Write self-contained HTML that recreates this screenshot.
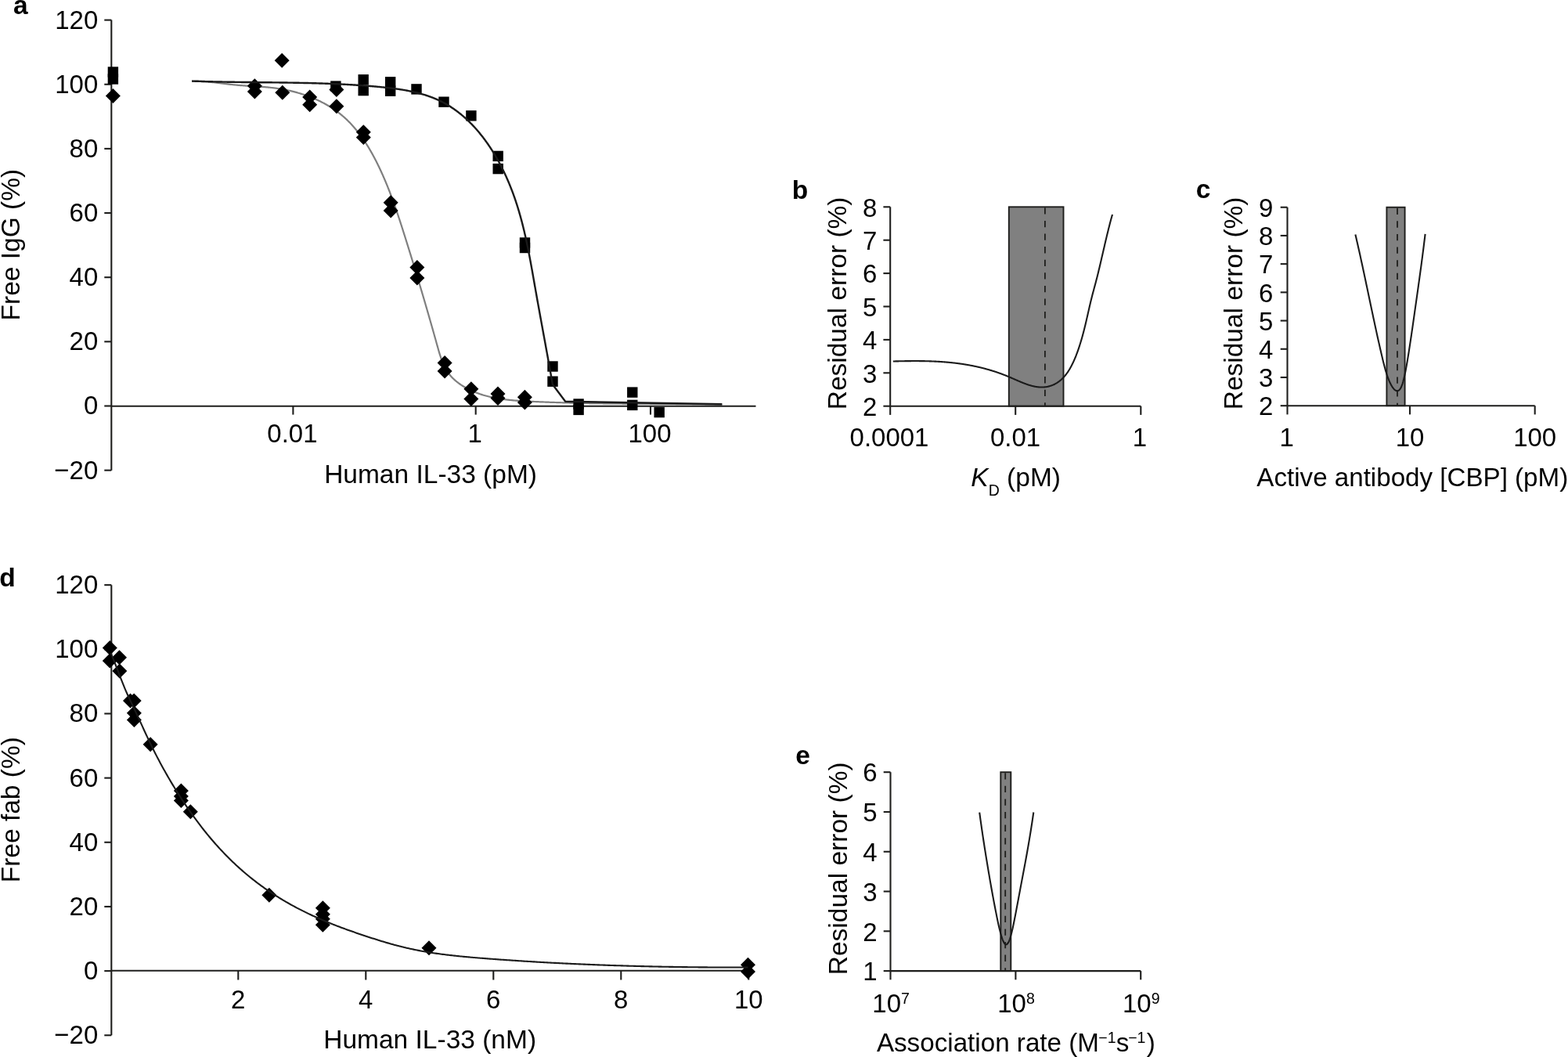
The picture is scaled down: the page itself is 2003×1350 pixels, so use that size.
<!DOCTYPE html>
<html><head><meta charset="utf-8"><title>Figure</title>
<style>
html,body{margin:0;padding:0;background:#fff;width:2003px;height:1350px;overflow:hidden;}
svg{display:block;}
text{font-family:'Liberation Sans', Arial, Helvetica, sans-serif;fill:#000;}
</style></head>
<body>
<svg width="2003" height="1350" viewBox="0 0 2003 1350">
<rect width="2003" height="1350" fill="#fff"/>
<line x1="142.30" y1="25.60" x2="142.30" y2="600.65" stroke="#1e1e1c" stroke-width="2.1" />
<line x1="133.30" y1="600.65" x2="142.30" y2="600.65" stroke="#1e1e1c" stroke-width="2.1" />
<text x="125.30" y="611.65" text-anchor="end" font-size="33" transform="matrix(1,0,0,1.03,0,-18.350)" >−20</text>
<line x1="133.30" y1="518.50" x2="142.30" y2="518.50" stroke="#1e1e1c" stroke-width="2.1" />
<text x="125.30" y="529.50" text-anchor="end" font-size="33" transform="matrix(1,0,0,1.03,0,-15.885)" >0</text>
<line x1="133.30" y1="436.35" x2="142.30" y2="436.35" stroke="#1e1e1c" stroke-width="2.1" />
<text x="125.30" y="447.35" text-anchor="end" font-size="33" transform="matrix(1,0,0,1.03,0,-13.421)" >20</text>
<line x1="133.30" y1="354.20" x2="142.30" y2="354.20" stroke="#1e1e1c" stroke-width="2.1" />
<text x="125.30" y="365.20" text-anchor="end" font-size="33" transform="matrix(1,0,0,1.03,0,-10.956)" >40</text>
<line x1="133.30" y1="272.05" x2="142.30" y2="272.05" stroke="#1e1e1c" stroke-width="2.1" />
<text x="125.30" y="283.05" text-anchor="end" font-size="33" transform="matrix(1,0,0,1.03,0,-8.492)" >60</text>
<line x1="133.30" y1="189.90" x2="142.30" y2="189.90" stroke="#1e1e1c" stroke-width="2.1" />
<text x="125.30" y="200.90" text-anchor="end" font-size="33" transform="matrix(1,0,0,1.03,0,-6.027)" >80</text>
<line x1="133.30" y1="107.75" x2="142.30" y2="107.75" stroke="#1e1e1c" stroke-width="2.1" />
<text x="125.30" y="118.75" text-anchor="end" font-size="33" transform="matrix(1,0,0,1.03,0,-3.563)" >100</text>
<line x1="133.30" y1="25.60" x2="142.30" y2="25.60" stroke="#1e1e1c" stroke-width="2.1" />
<text x="125.30" y="36.60" text-anchor="end" font-size="33" transform="matrix(1,0,0,1.03,0,-1.098)" >120</text>
<line x1="142.30" y1="518.70" x2="965.50" y2="518.70" stroke="#1e1e1c" stroke-width="2.1" />
<line x1="374.40" y1="518.70" x2="374.40" y2="529.60" stroke="#1e1e1c" stroke-width="2.1" />
<text x="373.40" y="565.30" text-anchor="middle" font-size="33" transform="matrix(1,0,0,1.03,0,-16.959)" >0.01</text>
<line x1="607.70" y1="518.70" x2="607.70" y2="529.60" stroke="#1e1e1c" stroke-width="2.1" />
<text x="606.70" y="565.30" text-anchor="middle" font-size="33" transform="matrix(1,0,0,1.03,0,-16.959)" >1</text>
<line x1="831.00" y1="518.70" x2="831.00" y2="529.60" stroke="#1e1e1c" stroke-width="2.1" />
<text x="830.00" y="565.30" text-anchor="middle" font-size="33" transform="matrix(1,0,0,1.03,0,-16.959)" >100</text>
<text x="414.15" y="616.70" text-anchor="start" font-size="33.5" >Human IL-33 (pM)</text>
<text transform="translate(24.90,409.40) rotate(-90)" font-size="33.5">Free IgG (%)</text>
<text x="17.00" y="18.40" font-size="33.5" font-weight="bold">a</text>
<path d="M245.20,103.83 L246.20,103.80 L247.20,103.78 L248.21,103.77 L249.21,103.76 L250.21,103.76 L251.21,103.77 L252.21,103.78 L253.21,103.80 L254.21,103.83 L255.21,103.86 L256.21,103.90 L257.21,103.94 L258.20,104.00 L259.20,104.05 L260.20,104.11 L261.20,104.18 L262.20,104.25 L263.19,104.32 L264.19,104.40 L265.19,104.49 L266.19,104.58 L267.18,104.67 L268.18,104.76 L269.18,104.86 L270.17,104.96 L271.17,105.07 L272.17,105.17 L273.16,105.28 L274.16,105.39 L275.15,105.51 L276.15,105.62 L277.15,105.74 L278.14,105.86 L279.14,105.98 L280.13,106.10 L281.13,106.22 L282.12,106.35 L283.12,106.47 L284.11,106.59 L285.11,106.72 L286.10,106.84 L287.10,106.96 L288.09,107.08 L289.09,107.20 L290.08,107.32 L291.08,107.44 L292.07,107.56 L293.06,107.68 L294.06,107.79 L295.05,107.90 L296.05,108.01 L297.04,108.12 L298.04,108.22 L299.03,108.33 L300.03,108.42 L301.02,108.52 L302.02,108.61 L303.01,108.70 L304.01,108.79 L305.00,108.87 L305.99,108.95 L306.99,109.03 L307.98,109.11 L308.98,109.18 L309.97,109.26 L310.97,109.33 L311.96,109.40 L312.96,109.47 L313.95,109.53 L314.95,109.60 L315.94,109.66 L316.94,109.73 L317.93,109.79 L318.93,109.85 L319.92,109.91 L320.91,109.97 L321.91,110.04 L322.90,110.10 L323.90,110.16 L324.89,110.22 L325.89,110.28 L326.88,110.35 L327.87,110.41 L328.87,110.48 L329.86,110.54 L330.86,110.61 L331.85,110.68 L332.84,110.75 L333.84,110.82 L334.83,110.89 L335.82,110.97 L336.82,111.05 L337.81,111.13 L338.80,111.21 L339.80,111.29 L340.79,111.38 L341.78,111.47 L342.77,111.57 L343.77,111.66 L344.76,111.77 L345.75,111.87 L346.74,111.98 L347.74,112.09 L348.73,112.20 L349.72,112.32 L350.71,112.45 L351.70,112.58 L352.69,112.71 L353.69,112.85 L354.68,112.99 L355.67,113.14 L356.66,113.29 L357.65,113.44 L358.64,113.61 L359.63,113.77 L360.62,113.95 L361.61,114.12 L362.59,114.30 L363.58,114.49 L364.57,114.68 L365.55,114.88 L366.54,115.08 L367.52,115.29 L368.51,115.50 L369.49,115.72 L370.47,115.94 L371.45,116.17 L372.43,116.40 L373.41,116.64 L374.39,116.88 L375.36,117.13 L376.34,117.38 L377.31,117.64 L378.28,117.90 L379.25,118.17 L380.22,118.45 L381.19,118.72 L382.15,119.01 L383.12,119.30 L384.08,119.59 L385.04,119.89 L386.00,120.20 L386.96,120.51 L387.91,120.82 L388.86,121.14 L389.81,121.47 L390.76,121.80 L391.71,122.14 L392.65,122.48 L393.59,122.83 L394.53,123.18 L395.47,123.54 L396.41,123.90 L397.34,124.27 L398.27,124.64 L399.20,125.02 L400.12,125.41 L401.04,125.80 L401.96,126.19 L402.88,126.59 L403.79,127.00 L404.70,127.41 L405.61,127.83 L406.51,128.25 L407.42,128.68 L408.31,129.11 L409.21,129.55 L410.10,130.00 L410.99,130.45 L411.88,130.90 L412.76,131.37 L413.64,131.83 L414.51,132.31 L415.38,132.78 L416.25,133.27 L417.12,133.76 L417.98,134.25 L418.83,134.75 L419.69,135.26 L420.54,135.77 L421.38,136.29 L422.22,136.81 L423.06,137.34 L423.89,137.87 L424.72,138.41 L425.55,138.96 L426.37,139.51 L427.19,140.07 L428.00,140.63 L428.81,141.20 L429.61,141.78 L430.41,142.36 L431.20,142.94 L431.99,143.53 L432.78,144.13 L433.56,144.73 L434.34,145.34 L435.11,145.96 L435.87,146.58 L436.63,147.21 L437.39,147.84 L438.14,148.48 L438.89,149.12 L439.63,149.77 L440.36,150.43 L441.09,151.09 L441.82,151.76 L442.54,152.43 L443.26,153.11 L443.97,153.79 L444.67,154.48 L445.37,155.18 L446.07,155.88 L446.76,156.59 L447.45,157.30 L448.13,158.01 L448.81,158.73 L449.48,159.46 L450.15,160.19 L450.81,160.93 L451.47,161.67 L452.12,162.41 L452.77,163.16 L453.42,163.92 L454.06,164.68 L454.69,165.44 L455.32,166.21 L455.95,166.98 L456.57,167.76 L457.19,168.54 L457.81,169.32 L458.42,170.11 L459.02,170.90 L459.62,171.70 L460.22,172.50 L460.81,173.31 L461.40,174.12 L461.99,174.93 L462.57,175.74 L463.15,176.56 L463.72,177.39 L464.29,178.21 L464.85,179.04 L465.41,179.88 L465.97,180.71 L466.53,181.55 L467.08,182.39 L467.62,183.24 L468.16,184.09 L468.70,184.94 L469.24,185.80 L469.77,186.65 L470.30,187.51 L470.82,188.38 L471.34,189.24 L471.86,190.11 L472.37,190.98 L472.88,191.85 L473.39,192.73 L473.89,193.60 L474.39,194.48 L474.89,195.37 L475.38,196.25 L475.87,197.13 L476.36,198.02 L476.85,198.91 L477.33,199.80 L477.80,200.70 L478.28,201.59 L478.75,202.49 L479.22,203.39 L479.68,204.29 L480.15,205.19 L480.61,206.09 L481.06,206.99 L481.52,207.90 L481.97,208.80 L482.42,209.71 L482.86,210.62 L483.30,211.53 L483.74,212.44 L484.18,213.35 L484.61,214.26 L485.05,215.18 L485.48,216.09 L485.90,217.00 L486.33,217.92 L486.75,218.83 L487.17,219.75 L487.59,220.67 L488.00,221.58 L488.41,222.50 L488.82,223.42 L489.23,224.34 L489.63,225.26 L490.04,226.18 L490.44,227.10 L490.83,228.02 L491.23,228.94 L491.62,229.86 L492.02,230.79 L492.40,231.71 L492.79,232.64 L493.18,233.56 L493.56,234.49 L493.94,235.41 L494.32,236.34 L494.70,237.27 L495.07,238.19 L495.44,239.12 L495.81,240.05 L496.18,240.98 L496.55,241.91 L496.92,242.84 L497.28,243.77 L497.64,244.70 L498.00,245.63 L498.36,246.56 L498.71,247.49 L499.07,248.43 L499.42,249.36 L499.77,250.29 L500.12,251.23 L500.47,252.16 L500.82,253.10 L501.16,254.03 L501.51,254.97 L501.85,255.91 L502.19,256.84 L502.53,257.78 L502.86,258.72 L503.20,259.65 L503.53,260.59 L503.87,261.53 L504.20,262.47 L504.53,263.41 L504.86,264.35 L505.19,265.29 L505.51,266.23 L505.84,267.17 L506.16,268.11 L506.49,269.05 L506.81,269.99 L507.13,270.93 L507.45,271.88 L507.77,272.82 L508.09,273.76 L508.40,274.70 L508.72,275.65 L509.04,276.59 L509.35,277.54 L509.66,278.48 L509.97,279.42 L510.29,280.37 L510.60,281.31 L510.91,282.26 L511.21,283.20 L511.52,284.15 L511.83,285.09 L512.14,286.04 L512.44,286.99 L512.75,287.93 L513.05,288.88 L513.36,289.83 L513.66,290.77 L513.96,291.72 L514.27,292.67 L514.57,293.61 L514.87,294.56 L515.17,295.51 L515.47,296.46 L515.77,297.40 L516.07,298.35 L516.37,299.30 L516.67,300.25 L516.97,301.20 L517.27,302.14 L517.56,303.09 L517.86,304.04 L518.16,304.99 L518.46,305.94 L518.75,306.89 L519.05,307.84 L519.35,308.79 L519.64,309.73 L519.94,310.68 L520.24,311.63 L520.53,312.58 L520.83,313.53 L521.13,314.48 L521.42,315.43 L521.72,316.38 L522.01,317.33 L522.31,318.28 L522.60,319.23 L522.90,320.18 L523.19,321.13 L523.48,322.08 L523.78,323.03 L524.07,323.98 L524.37,324.93 L524.66,325.88 L524.95,326.83 L525.25,327.78 L525.54,328.74 L525.83,329.69 L526.12,330.64 L526.42,331.59 L526.71,332.54 L527.00,333.49 L527.29,334.44 L527.58,335.40 L527.88,336.35 L528.17,337.30 L528.46,338.25 L528.75,339.21 L529.04,340.16 L529.33,341.11 L529.62,342.06 L529.91,343.02 L530.20,343.97 L530.49,344.92 L530.78,345.88 L531.07,346.83 L531.36,347.79 L531.65,348.74 L531.94,349.69 L532.23,350.65 L532.51,351.60 L532.80,352.56 L533.09,353.51 L533.38,354.47 L533.67,355.42 L533.95,356.38 L534.24,357.33 L534.53,358.29 L534.82,359.25 L535.10,360.20 L535.39,361.16 L535.68,362.12 L535.96,363.07 L536.25,364.03 L536.53,364.99 L536.82,365.94 L537.10,366.90 L537.39,367.86 L537.67,368.82 L537.96,369.78 L538.24,370.73 L538.53,371.69 L538.81,372.65 L539.10,373.61 L539.38,374.57 L539.67,375.53 L539.95,376.49 L540.23,377.45 L540.52,378.41 L540.80,379.37 L541.08,380.33 L541.37,381.29 L541.65,382.25 L541.93,383.21 L542.21,384.17 L542.49,385.13 L542.78,386.10 L543.06,387.06 L543.34,388.02 L543.62,388.98 L543.90,389.95 L544.18,390.91 L544.46,391.87 L544.74,392.84 L545.02,393.80 L545.30,394.76 L545.58,395.73 L545.86,396.69 L546.14,397.66 L546.42,398.62 L546.70,399.59 L546.98,400.55 L547.26,401.52 L547.54,402.49 L547.82,403.45 L548.10,404.42 L548.38,405.39 L548.65,406.35 L548.93,407.32 L549.21,408.29 L549.49,409.26 L549.76,410.22 L550.04,411.19 L550.32,412.16 L550.60,413.13 L550.87,414.10 L551.15,415.07 L551.42,416.04 L551.70,417.01 L551.98,417.98 L552.25,418.95 L552.53,419.92 L552.80,420.90 L553.08,421.87 L553.35,422.84 L553.63,423.81 L553.90,424.79 L554.18,425.76 L554.45,426.73 L554.73,427.71 L555.00,428.68 L555.27,429.65 L555.55,430.63 L555.82,431.60 L556.09,432.58 L556.37,433.55 L556.64,434.53 L556.91,435.51 L557.19,436.48 L557.46,437.46 L557.73,438.44 L558.00,439.42 L558.28,440.39 L558.55,441.37 L558.82,442.35 L559.09,443.33 L559.37,444.31 L559.64,445.28 L559.92,446.26 L560.20,447.23 L560.48,448.21 L560.76,449.18 L561.05,450.15 L561.34,451.11 L561.64,452.08 L561.94,453.04 L562.25,454.00 L562.56,454.95 L562.87,455.90 L563.20,456.85 L563.52,457.80 L563.86,458.73 L564.20,459.67 L564.55,460.60 L564.91,461.52 L565.28,462.44 L565.66,463.35 L566.04,464.26 L566.44,465.16 L566.84,466.06 L567.26,466.94 L567.68,467.82 L568.12,468.70 L568.57,469.56 L569.03,470.42 L569.50,471.27 L569.98,472.11 L570.48,472.94 L570.99,473.77 L571.52,474.58 L572.06,475.39 L572.61,476.18 L573.18,476.97 L573.77,477.74 L574.37,478.51 L574.98,479.26 L575.61,480.01 L576.26,480.74 L576.92,481.46 L577.60,482.17 L578.28,482.88 L578.98,483.57 L579.70,484.25 L580.42,484.92 L581.16,485.58 L581.91,486.23 L582.67,486.87 L583.44,487.50 L584.22,488.12 L585.00,488.73 L585.80,489.33 L586.61,489.92 L587.42,490.50 L588.24,491.07 L589.07,491.63 L589.90,492.18 L590.74,492.72 L591.58,493.25 L592.43,493.77 L593.28,494.28 L594.14,494.78 L595.00,495.27 L595.87,495.75 L596.74,496.22 L597.61,496.68 L598.49,497.14 L599.37,497.58 L600.26,498.02 L601.15,498.44 L602.04,498.86 L602.93,499.27 L603.83,499.67 L604.74,500.06 L605.64,500.44 L606.56,500.82 L607.47,501.19 L608.39,501.55 L609.31,501.90 L610.23,502.24 L611.16,502.58 L612.09,502.90 L613.02,503.22 L613.96,503.54 L614.89,503.84 L615.84,504.14 L616.78,504.43 L617.73,504.72 L618.68,504.99 L619.63,505.26 L620.59,505.53 L621.55,505.78 L622.51,506.03 L623.47,506.28 L624.43,506.51 L625.40,506.75 L626.37,506.97 L627.35,507.19 L628.32,507.40 L629.30,507.61 L630.28,507.81 L631.26,508.01 L632.24,508.20 L633.22,508.38 L634.21,508.56 L635.20,508.74 L636.19,508.91 L637.18,509.07 L638.18,509.23 L639.17,509.39 L640.17,509.54 L641.17,509.68 L642.17,509.83 L643.17,509.96 L644.17,510.10 L645.18,510.22 L646.18,510.35 L647.19,510.47 L648.20,510.58 L649.20,510.70 L650.21,510.81 L651.23,510.91 L652.24,511.01 L653.25,511.11 L654.26,511.21 L655.28,511.30 L656.29,511.39 L657.31,511.48 L658.33,511.56 L659.34,511.64 L660.36,511.72 L661.38,511.79 L662.40,511.87 L663.42,511.94 L664.43,512.01 L665.45,512.07 L666.47,512.14 L667.49,512.20 L668.51,512.26 L669.53,512.32 L670.55,512.38 L671.57,512.43 L672.59,512.49 L673.61,512.54 L674.63,512.59 L675.65,512.64 L676.67,512.69 L677.68,512.74 L678.70,512.79 L679.72,512.84 L680.74,512.89 L681.75,512.93 L682.77,512.98 L683.78,513.02 L684.80,513.07 L685.81,513.11 L686.83,513.16 L687.84,513.20 L688.85,513.24 L689.86,513.28 L690.87,513.32 L691.89,513.37 L692.90,513.41 L693.91,513.45 L694.92,513.49 L695.92,513.52 L696.93,513.56 L697.94,513.60 L698.95,513.64 L699.96,513.68 L700.96,513.71 L701.97,513.75 L702.97,513.78 L703.98,513.82 L704.98,513.85 L705.99,513.89 L706.99,513.92 L708.00,513.95 L709.00,513.99 L710.00,514.02 L711.01,514.05 L712.01,514.08 L713.01,514.11 L714.01,514.14 L715.01,514.17 L716.01,514.20 L717.01,514.23 L718.01,514.26 L719.01,514.29 L720.01,514.32 L721.01,514.34 L722.01,514.37 L723.00,514.40 L724.00,514.42 L725.00,514.45 L726.00,514.48 L726.99,514.50 L727.99,514.53 L728.99,514.55 L729.98,514.57 L730.98,514.60 L731.97,514.62 L732.97,514.64 L733.96,514.67 L734.95,514.69 L735.95,514.71 L736.94,514.73 L737.94,514.75 L738.93,514.77 L739.92,514.79 L740.91,514.81 L741.91,514.83 L742.90,514.85 L743.89,514.87 L744.88,514.89 L745.87,514.91 L746.87,514.93 L747.86,514.95 L748.85,514.96 L749.84,514.98 L750.83,515.00 L751.82,515.02 L752.81,515.03 L753.80,515.05 L754.79,515.06 L755.78,515.08 L756.77,515.10 L757.76,515.11 L758.74,515.13 L759.73,515.14 L760.72,515.15 L761.71,515.17 L762.70,515.18 L763.69,515.20 L764.67,515.21 L765.66,515.22 L766.65,515.24 L767.64,515.25 L768.63,515.26 L769.61,515.27 L770.60,515.29 L771.59,515.30 L772.57,515.31 L773.56,515.32 L774.55,515.33 L775.54,515.34 L776.52,515.35 L777.51,515.36 L778.50,515.37 L779.48,515.38 L780.47,515.39 L781.45,515.40 L782.44,515.41 L783.43,515.42 L784.41,515.43 L785.40,515.44 L786.39,515.45 L787.37,515.46 L788.36,515.47 L789.35,515.48 L790.33,515.49 L791.32,515.50 L792.30,515.50 L793.29,515.51 L794.28,515.52 L795.26,515.53 L796.25,515.54 L797.24,515.55 L798.22,515.55 L799.21,515.56 L800.20,515.57 L801.18,515.58 L802.17,515.58 L803.15,515.59 L804.14,515.60 L805.13,515.60 L806.12,515.61 L807.10,515.62 L808.09,515.63 L809.08,515.63 L810.06,515.64 L811.05,515.65 L812.04,515.65 L813.03,515.66 L814.01,515.67 L815.00,515.67 L815.99,515.68 L816.98,515.69 L817.97,515.69 L818.95,515.70 L819.94,515.70 L820.93,515.71 L821.92,515.72 L822.91,515.72 L823.90,515.73 L824.89,515.74 L825.88,515.74 L826.87,515.75 L827.86,515.76 L828.85,515.76 L829.84,515.77 L830.83,515.78 L831.82,515.78 L832.81,515.79 L833.80,515.80 L834.79,515.80 L835.78,515.81 L836.77,515.82 L837.76,515.82 L838.76,515.83 L839.75,515.84 L840.74,515.84 L841.73,515.85 L842.73,515.86 L843.72,515.86 L844.71,515.87 L845.71,515.88 L846.70,515.89 L847.70,515.89 L848.69,515.90 L849.69,515.91 L850.68,515.92 L851.68,515.93 L852.67,515.93 L853.67,515.94 L854.67,515.95 L855.66,515.96 L856.66,515.97 L857.66,515.98 L858.66,515.99 L859.65,515.99 L860.65,516.00 L861.65,516.01 L862.65,516.02 L863.65,516.03 L864.65,516.04 L865.65,516.05 L866.65,516.06 L867.65,516.07 L868.66,516.08 L869.66,516.09 L870.66,516.10 L871.66,516.12 L872.67,516.13 L873.67,516.14 L874.67,516.15 L875.68,516.16 L876.68,516.17 L877.69,516.19 L878.69,516.20 L879.70,516.21 L880.71,516.22 L881.71,516.24 L882.72,516.25 L883.73,516.26 L884.74,516.28 L885.75,516.29 L886.76,516.31 L887.77,516.32 L888.78,516.34 L889.79,516.35 L890.80,516.37 L891.81,516.38 L892.82,516.40 L893.84,516.41 L894.85,516.43 L895.86,516.45 L896.88,516.46 L897.89,516.48 L898.91,516.50 L899.92,516.52 L900.94,516.53 L901.96,516.55 L902.98,516.57 L903.99,516.59 L905.01,516.61 L906.03,516.63 L907.05,516.65 L908.07,516.67 L909.10,516.69 L910.12,516.71 L911.14,516.73 L912.16,516.76 L913.19,516.78 L914.21,516.80 L915.23,516.82 L916.26,516.85 L917.29,516.87 L918.31,516.89 L919.34,516.92 L920.37,516.94 L921.40,516.97 L922.43,516.99" fill="none" stroke="#7f7f7f" stroke-width="2.2" stroke-linejoin="round" />
<rect x="137.70" y="85.30" width="13.4" height="13.4" fill="#000"/>
<rect x="137.70" y="94.30" width="13.4" height="13.4" fill="#000"/>
<rect x="457.50" y="95.10" width="13.4" height="13.4" fill="#000"/>
<rect x="457.50" y="108.90" width="13.4" height="13.4" fill="#000"/>
<rect x="492.00" y="98.10" width="13.4" height="13.4" fill="#000"/>
<rect x="492.00" y="109.50" width="13.4" height="13.4" fill="#000"/>
<rect x="422.20" y="103.40" width="13.4" height="13.4" fill="#000"/>
<rect x="525.30" y="107.20" width="13.4" height="13.4" fill="#000"/>
<rect x="560.30" y="123.50" width="13.4" height="13.4" fill="#000"/>
<rect x="595.20" y="141.10" width="13.4" height="13.4" fill="#000"/>
<rect x="629.50" y="192.70" width="13.4" height="13.4" fill="#000"/>
<rect x="629.50" y="208.90" width="13.4" height="13.4" fill="#000"/>
<rect x="663.80" y="303.30" width="13.4" height="13.4" fill="#000"/>
<rect x="663.80" y="309.80" width="13.4" height="13.4" fill="#000"/>
<rect x="699.30" y="461.30" width="13.4" height="13.4" fill="#000"/>
<rect x="699.30" y="480.50" width="13.4" height="13.4" fill="#000"/>
<rect x="732.40" y="509.30" width="13.4" height="13.4" fill="#000"/>
<rect x="732.40" y="516.70" width="13.4" height="13.4" fill="#000"/>
<rect x="801.10" y="494.40" width="13.4" height="13.4" fill="#000"/>
<rect x="801.10" y="510.70" width="13.4" height="13.4" fill="#000"/>
<rect x="835.50" y="519.90" width="13.4" height="13.4" fill="#000"/>
<path d="M144.40,113.00L153.90,122.50L144.40,132.00L134.90,122.50Z" fill="#000"/>
<path d="M325.40,100.30L334.90,109.80L325.40,119.30L315.90,109.80Z" fill="#000"/>
<path d="M325.40,107.50L334.90,117.00L325.40,126.50L315.90,117.00Z" fill="#000"/>
<path d="M360.20,67.80L369.70,77.30L360.20,86.80L350.70,77.30Z" fill="#000"/>
<path d="M360.80,108.70L370.30,118.20L360.80,127.70L351.30,118.20Z" fill="#000"/>
<path d="M395.70,114.50L405.20,124.00L395.70,133.50L386.20,124.00Z" fill="#000"/>
<path d="M395.70,124.20L405.20,133.70L395.70,143.20L386.20,133.70Z" fill="#000"/>
<path d="M429.90,104.90L439.40,114.40L429.90,123.90L420.40,114.40Z" fill="#000"/>
<path d="M429.90,126.30L439.40,135.80L429.90,145.30L420.40,135.80Z" fill="#000"/>
<path d="M464.30,159.30L473.80,168.80L464.30,178.30L454.80,168.80Z" fill="#000"/>
<path d="M464.30,165.90L473.80,175.40L464.30,184.90L454.80,175.40Z" fill="#000"/>
<path d="M499.20,249.20L508.70,258.70L499.20,268.20L489.70,258.70Z" fill="#000"/>
<path d="M499.20,259.40L508.70,268.90L499.20,278.40L489.70,268.90Z" fill="#000"/>
<path d="M532.90,332.00L542.40,341.50L532.90,351.00L523.40,341.50Z" fill="#000"/>
<path d="M532.90,345.50L542.40,355.00L532.90,364.50L523.40,355.00Z" fill="#000"/>
<path d="M568.10,454.10L577.60,463.60L568.10,473.10L558.60,463.60Z" fill="#000"/>
<path d="M568.10,464.40L577.60,473.90L568.10,483.40L558.60,473.90Z" fill="#000"/>
<path d="M601.90,487.30L611.40,496.80L601.90,506.30L592.40,496.80Z" fill="#000"/>
<path d="M601.90,499.90L611.40,509.40L601.90,518.90L592.40,509.40Z" fill="#000"/>
<path d="M636.00,493.60L645.50,503.10L636.00,512.60L626.50,503.10Z" fill="#000"/>
<path d="M636.00,499.00L645.50,508.50L636.00,518.00L626.50,508.50Z" fill="#000"/>
<path d="M670.40,497.80L679.90,507.30L670.40,516.80L660.90,507.30Z" fill="#000"/>
<path d="M670.40,504.50L679.90,514.00L670.40,523.50L660.90,514.00Z" fill="#000"/>
<path d="M245.12,103.54 L246.13,103.58 L247.15,103.61 L248.16,103.65 L249.17,103.68 L250.18,103.72 L251.19,103.75 L252.20,103.79 L253.21,103.82 L254.22,103.85 L255.23,103.88 L256.24,103.91 L257.25,103.94 L258.26,103.97 L259.27,104.00 L260.27,104.03 L261.28,104.06 L262.29,104.09 L263.30,104.11 L264.30,104.14 L265.31,104.17 L266.32,104.19 L267.32,104.22 L268.33,104.24 L269.33,104.27 L270.34,104.29 L271.34,104.31 L272.35,104.34 L273.35,104.36 L274.36,104.38 L275.36,104.40 L276.36,104.43 L277.37,104.45 L278.37,104.47 L279.37,104.49 L280.37,104.51 L281.38,104.53 L282.38,104.54 L283.38,104.56 L284.38,104.58 L285.38,104.60 L286.38,104.62 L287.39,104.63 L288.39,104.65 L289.39,104.67 L290.39,104.68 L291.39,104.70 L292.39,104.71 L293.39,104.73 L294.39,104.74 L295.38,104.76 L296.38,104.77 L297.38,104.79 L298.38,104.80 L299.38,104.82 L300.38,104.83 L301.37,104.84 L302.37,104.86 L303.37,104.87 L304.37,104.88 L305.36,104.89 L306.36,104.91 L307.36,104.92 L308.36,104.93 L309.35,104.94 L310.35,104.95 L311.34,104.96 L312.34,104.97 L313.34,104.99 L314.33,105.00 L315.33,105.01 L316.32,105.02 L317.32,105.03 L318.31,105.04 L319.31,105.05 L320.30,105.06 L321.30,105.07 L322.29,105.08 L323.29,105.09 L324.28,105.10 L325.28,105.11 L326.27,105.12 L327.27,105.13 L328.26,105.14 L329.25,105.15 L330.25,105.16 L331.24,105.17 L332.24,105.18 L333.23,105.19 L334.22,105.20 L335.22,105.20 L336.21,105.21 L337.20,105.22 L338.20,105.23 L339.19,105.24 L340.18,105.25 L341.18,105.26 L342.17,105.27 L343.16,105.28 L344.15,105.29 L345.15,105.30 L346.14,105.31 L347.13,105.32 L348.12,105.33 L349.12,105.35 L350.11,105.36 L351.10,105.37 L352.09,105.38 L353.09,105.39 L354.08,105.40 L355.07,105.41 L356.06,105.42 L357.06,105.44 L358.05,105.45 L359.04,105.46 L360.03,105.47 L361.03,105.48 L362.02,105.50 L363.01,105.51 L364.00,105.52 L364.99,105.54 L365.99,105.55 L366.98,105.56 L367.97,105.58 L368.96,105.59 L369.96,105.61 L370.95,105.62 L371.94,105.64 L372.93,105.65 L373.93,105.67 L374.92,105.69 L375.91,105.70 L376.90,105.72 L377.90,105.74 L378.89,105.75 L379.88,105.77 L380.87,105.79 L381.87,105.81 L382.86,105.83 L383.85,105.85 L384.85,105.87 L385.84,105.89 L386.83,105.91 L387.82,105.93 L388.82,105.95 L389.81,105.97 L390.80,105.99 L391.80,106.02 L392.79,106.04 L393.79,106.06 L394.78,106.09 L395.77,106.11 L396.77,106.14 L397.76,106.16 L398.75,106.19 L399.75,106.21 L400.74,106.24 L401.74,106.27 L402.73,106.30 L403.73,106.32 L404.72,106.35 L405.72,106.38 L406.71,106.41 L407.71,106.44 L408.70,106.47 L409.70,106.51 L410.69,106.54 L411.69,106.57 L412.69,106.60 L413.68,106.64 L414.68,106.67 L415.67,106.71 L416.67,106.74 L417.67,106.78 L418.66,106.82 L419.66,106.85 L420.66,106.89 L421.66,106.93 L422.65,106.97 L423.65,107.01 L424.65,107.05 L425.65,107.09 L426.64,107.14 L427.64,107.18 L428.64,107.22 L429.64,107.27 L430.64,107.31 L431.64,107.36 L432.64,107.41 L433.64,107.45 L434.64,107.50 L435.64,107.55 L436.64,107.60 L437.64,107.65 L438.64,107.70 L439.64,107.75 L440.64,107.81 L441.64,107.86 L442.64,107.91 L443.65,107.97 L444.65,108.03 L445.65,108.08 L446.65,108.14 L447.66,108.20 L448.66,108.26 L449.66,108.32 L450.67,108.38 L451.67,108.44 L452.67,108.50 L453.68,108.57 L454.68,108.63 L455.69,108.70 L456.69,108.76 L457.70,108.83 L458.71,108.90 L459.71,108.97 L460.72,109.04 L461.72,109.11 L462.73,109.18 L463.74,109.25 L464.75,109.33 L465.75,109.40 L466.76,109.48 L467.77,109.56 L468.78,109.63 L469.79,109.71 L470.80,109.79 L471.81,109.87 L472.82,109.96 L473.83,110.04 L474.84,110.12 L475.85,110.21 L476.86,110.29 L477.87,110.38 L478.88,110.47 L479.90,110.56 L480.91,110.65 L481.92,110.74 L482.94,110.83 L483.95,110.93 L484.96,111.02 L485.98,111.12 L486.99,111.22 L488.00,111.32 L489.02,111.42 L490.03,111.52 L491.05,111.63 L492.06,111.73 L493.07,111.84 L494.09,111.95 L495.10,112.07 L496.11,112.18 L497.12,112.30 L498.13,112.42 L499.15,112.54 L500.16,112.66 L501.17,112.79 L502.17,112.92 L503.18,113.05 L504.19,113.18 L505.20,113.32 L506.20,113.46 L507.21,113.60 L508.21,113.74 L509.22,113.89 L510.22,114.04 L511.22,114.20 L512.22,114.35 L513.22,114.51 L514.22,114.68 L515.22,114.85 L516.21,115.02 L517.21,115.19 L518.20,115.37 L519.19,115.55 L520.18,115.73 L521.17,115.92 L522.16,116.12 L523.14,116.31 L524.12,116.51 L525.11,116.72 L526.09,116.93 L527.06,117.14 L528.04,117.36 L529.02,117.58 L529.99,117.80 L530.96,118.03 L531.93,118.27 L532.89,118.51 L533.86,118.75 L534.82,119.00 L535.78,119.25 L536.74,119.51 L537.69,119.78 L538.65,120.04 L539.60,120.32 L540.54,120.60 L541.49,120.88 L542.43,121.17 L543.37,121.46 L544.31,121.76 L545.25,122.07 L546.18,122.38 L547.11,122.70 L548.03,123.02 L548.96,123.35 L549.88,123.68 L550.80,124.02 L551.71,124.36 L552.62,124.71 L553.53,125.07 L554.44,125.44 L555.34,125.81 L556.24,126.18 L557.13,126.56 L558.03,126.95 L558.91,127.35 L559.80,127.75 L560.68,128.16 L561.56,128.57 L562.44,129.00 L563.31,129.42 L564.17,129.86 L565.04,130.30 L565.90,130.75 L566.76,131.20 L567.61,131.67 L568.46,132.13 L569.31,132.61 L570.15,133.09 L570.99,133.58 L571.82,134.07 L572.65,134.57 L573.48,135.08 L574.31,135.59 L575.13,136.11 L575.95,136.63 L576.76,137.16 L577.57,137.70 L578.38,138.24 L579.18,138.79 L579.98,139.34 L580.78,139.90 L581.57,140.46 L582.36,141.04 L583.14,141.61 L583.93,142.19 L584.70,142.78 L585.48,143.38 L586.25,143.98 L587.02,144.58 L587.78,145.19 L588.54,145.80 L589.30,146.42 L590.05,147.05 L590.80,147.68 L591.55,148.32 L592.29,148.96 L593.03,149.60 L593.77,150.26 L594.50,150.91 L595.23,151.57 L595.96,152.24 L596.68,152.91 L597.40,153.59 L598.11,154.27 L598.82,154.95 L599.53,155.64 L600.24,156.34 L600.94,157.04 L601.63,157.74 L602.33,158.45 L603.02,159.16 L603.70,159.88 L604.39,160.60 L605.07,161.33 L605.74,162.06 L606.42,162.79 L607.09,163.53 L607.75,164.27 L608.42,165.02 L609.07,165.77 L609.73,166.53 L610.38,167.28 L611.03,168.05 L611.68,168.81 L612.32,169.59 L612.96,170.36 L613.59,171.14 L614.22,171.92 L614.85,172.71 L615.47,173.49 L616.09,174.29 L616.71,175.08 L617.33,175.88 L617.94,176.69 L618.54,177.49 L619.15,178.30 L619.75,179.12 L620.34,179.93 L620.94,180.75 L621.53,181.58 L622.11,182.40 L622.70,183.23 L623.28,184.06 L623.85,184.90 L624.42,185.74 L624.99,186.58 L625.56,187.42 L626.12,188.27 L626.68,189.12 L627.24,189.97 L627.79,190.83 L628.34,191.68 L628.88,192.54 L629.42,193.41 L629.96,194.27 L630.50,195.14 L631.03,196.01 L631.56,196.88 L632.08,197.76 L632.60,198.63 L633.12,199.51 L633.64,200.40 L634.15,201.28 L634.66,202.16 L635.16,203.05 L635.66,203.94 L636.16,204.83 L636.65,205.73 L637.14,206.62 L637.63,207.52 L638.12,208.42 L638.60,209.32 L639.07,210.23 L639.55,211.13 L640.02,212.04 L640.49,212.94 L640.95,213.85 L641.41,214.76 L641.87,215.68 L642.32,216.59 L642.77,217.51 L643.22,218.42 L643.66,219.34 L644.10,220.26 L644.54,221.18 L644.97,222.10 L645.40,223.02 L645.83,223.94 L646.26,224.87 L646.68,225.79 L647.09,226.72 L647.51,227.65 L647.92,228.58 L648.32,229.50 L648.73,230.43 L649.13,231.36 L649.52,232.29 L649.92,233.23 L650.31,234.16 L650.69,235.09 L651.08,236.02 L651.46,236.96 L651.84,237.89 L652.21,238.82 L652.58,239.76 L652.95,240.70 L653.31,241.63 L653.67,242.57 L654.03,243.51 L654.39,244.44 L654.74,245.38 L655.09,246.32 L655.44,247.26 L655.78,248.20 L656.12,249.14 L656.46,250.08 L656.79,251.02 L657.12,251.96 L657.45,252.90 L657.78,253.85 L658.10,254.79 L658.42,255.73 L658.74,256.68 L659.05,257.62 L659.37,258.57 L659.68,259.51 L659.98,260.46 L660.29,261.41 L660.59,262.35 L660.89,263.30 L661.19,264.25 L661.48,265.20 L661.77,266.15 L662.06,267.09 L662.35,268.04 L662.63,268.99 L662.92,269.95 L663.20,270.90 L663.47,271.85 L663.75,272.80 L664.02,273.75 L664.29,274.71 L664.56,275.66 L664.83,276.61 L665.09,277.57 L665.35,278.52 L665.61,279.48 L665.87,280.43 L666.13,281.39 L666.38,282.34 L666.63,283.30 L666.88,284.26 L667.13,285.22 L667.38,286.17 L667.62,287.13 L667.86,288.09 L668.10,289.05 L668.34,290.01 L668.58,290.97 L668.81,291.93 L669.04,292.89 L669.28,293.85 L669.51,294.81 L669.73,295.78 L669.96,296.74 L670.18,297.70 L670.41,298.67 L670.63,299.63 L670.85,300.59 L671.07,301.56 L671.28,302.52 L671.50,303.49 L671.71,304.45 L671.92,305.42 L672.14,306.38 L672.34,307.35 L672.55,308.32 L672.76,309.29 L672.97,310.25 L673.17,311.22 L673.37,312.19 L673.57,313.16 L673.77,314.13 L673.97,315.10 L674.17,316.07 L674.37,317.04 L674.57,318.01 L674.76,318.98 L674.95,319.95 L675.15,320.92 L675.34,321.89 L675.53,322.86 L675.72,323.84 L675.91,324.81 L676.10,325.78 L676.28,326.76 L676.47,327.73 L676.66,328.70 L676.84,329.68 L677.02,330.65 L677.21,331.63 L677.39,332.60 L677.57,333.58 L677.75,334.55 L677.93,335.53 L678.11,336.51 L678.29,337.48 L678.47,338.46 L678.65,339.44 L678.83,340.41 L679.00,341.39 L679.18,342.37 L679.36,343.35 L679.53,344.33 L679.71,345.31 L679.88,346.29 L680.06,347.27 L680.23,348.25 L680.41,349.23 L680.58,350.21 L680.75,351.19 L680.93,352.17 L681.10,353.15 L681.27,354.13 L681.45,355.11 L681.62,356.09 L681.79,357.08 L681.96,358.06 L682.14,359.04 L682.31,360.02 L682.48,361.01 L682.65,361.99 L682.83,362.97 L683.00,363.96 L683.17,364.94 L683.35,365.93 L683.52,366.91 L683.69,367.89 L683.87,368.88 L684.04,369.86 L684.21,370.85 L684.39,371.84 L684.56,372.82 L684.74,373.81 L684.91,374.79 L685.09,375.78 L685.26,376.77 L685.44,377.75 L685.62,378.74 L685.79,379.73 L685.97,380.71 L686.15,381.70 L686.32,382.69 L686.50,383.68 L686.68,384.67 L686.85,385.65 L687.03,386.64 L687.21,387.63 L687.39,388.62 L687.57,389.61 L687.74,390.59 L687.92,391.58 L688.10,392.57 L688.28,393.56 L688.46,394.55 L688.64,395.54 L688.82,396.53 L689.00,397.52 L689.18,398.51 L689.36,399.49 L689.54,400.48 L689.71,401.47 L689.89,402.46 L690.07,403.45 L690.25,404.44 L690.44,405.43 L690.62,406.42 L690.80,407.41 L690.98,408.40 L691.16,409.39 L691.34,410.38 L691.52,411.37 L691.70,412.36 L691.88,413.35 L692.06,414.34 L692.24,415.32 L692.42,416.31 L692.60,417.30 L692.78,418.29 L692.97,419.28 L693.15,420.27 L693.33,421.26 L693.51,422.25 L693.69,423.24 L693.87,424.22 L694.05,425.21 L694.23,426.20 L694.41,427.19 L694.59,428.18 L694.78,429.17 L694.96,430.15 L695.14,431.14 L695.32,432.13 L695.50,433.12 L695.68,434.11 L695.86,435.09 L696.04,436.08 L696.22,437.07 L696.40,438.05 L696.58,439.04 L696.76,440.03 L696.94,441.01 L697.12,442.00 L697.30,442.98 L697.48,443.97 L697.66,444.96 L697.84,445.94 L698.02,446.93 L698.20,447.91 L698.38,448.90 L698.56,449.88 L698.74,450.86 L698.92,451.85 L699.10,452.83 L699.27,453.81 L699.45,454.80 L699.63,455.78 L699.81,456.76 L699.99,457.74 L700.17,458.73 L700.34,459.71 L700.52,460.69 L700.70,461.67 L700.87,462.65 L701.05,463.63 L701.23,464.61 L701.40,465.59 L701.58,466.57 L701.76,467.55 L701.93,468.53 L702.11,469.51 L702.28,470.49 L702.46,471.46 L702.63,472.44 L702.81,473.42 L702.98,474.39 L703.16,475.37 L703.33,476.35 L703.50,477.32 L703.68,478.30 L703.85,479.27 L704.02,480.24 L704.19,481.22 L704.37,482.19 L704.54,483.16 L704.71,484.14 L704.88,485.11 L705.05,486.08 L705.22,487.05 L705.39,488.02 L705.56,488.99 L705.73,489.96 L705.90,490.93 L722.2,512.8 L922.4,516.2" fill="none" stroke="#1a1a1a" stroke-width="2.4" stroke-linejoin="round" />
<rect x="1288.80" y="264.30" width="69.70" height="254.40" fill="#808080" stroke="#1e1e1c" stroke-width="1.9"/>
<line x1="1334.90" y1="265.30" x2="1334.90" y2="518.70" stroke="#1e1e1c" stroke-width="1.8" stroke-dasharray="8.3 8.3"/>
<path d="M1140.80,461.50 L1141.30,461.49 L1141.80,461.47 L1142.30,461.46 L1142.80,461.45 L1143.30,461.43 L1143.80,461.42 L1144.30,461.41 L1144.80,461.40 L1145.30,461.39 L1145.79,461.37 L1146.29,461.36 L1146.79,461.35 L1147.29,461.34 L1147.79,461.33 L1148.29,461.32 L1148.79,461.30 L1149.29,461.29 L1149.79,461.28 L1150.29,461.27 L1150.79,461.26 L1151.29,461.25 L1151.79,461.24 L1152.29,461.23 L1152.79,461.22 L1153.29,461.21 L1153.79,461.20 L1154.29,461.20 L1154.79,461.19 L1155.28,461.18 L1155.78,461.17 L1156.28,461.16 L1156.78,461.15 L1157.28,461.15 L1157.78,461.14 L1158.28,461.13 L1158.78,461.13 L1159.28,461.12 L1159.78,461.11 L1160.28,461.11 L1160.78,461.10 L1161.28,461.10 L1161.78,461.09 L1162.28,461.09 L1162.78,461.08 L1163.28,461.08 L1163.78,461.08 L1164.27,461.07 L1164.77,461.07 L1165.27,461.07 L1165.77,461.06 L1166.27,461.06 L1166.77,461.06 L1167.27,461.06 L1167.77,461.06 L1168.27,461.06 L1168.77,461.06 L1169.27,461.06 L1169.77,461.06 L1170.27,461.06 L1170.77,461.06 L1171.27,461.06 L1171.77,461.06 L1172.27,461.06 L1172.77,461.07 L1173.27,461.07 L1173.76,461.07 L1174.26,461.08 L1174.76,461.08 L1175.26,461.08 L1175.76,461.09 L1176.26,461.09 L1176.76,461.10 L1177.26,461.11 L1177.76,461.11 L1178.26,461.12 L1178.76,461.13 L1179.26,461.14 L1179.76,461.14 L1180.26,461.15 L1180.76,461.16 L1181.26,461.17 L1181.76,461.18 L1182.26,461.19 L1182.76,461.20 L1183.25,461.21 L1183.75,461.23 L1184.25,461.24 L1184.75,461.25 L1185.25,461.27 L1185.75,461.28 L1186.25,461.29 L1186.75,461.31 L1187.25,461.33 L1187.75,461.34 L1188.25,461.36 L1188.75,461.38 L1189.25,461.39 L1189.75,461.41 L1190.25,461.43 L1190.75,461.45 L1191.25,461.47 L1191.75,461.49 L1192.24,461.51 L1192.74,461.53 L1193.24,461.55 L1193.74,461.58 L1194.24,461.60 L1194.74,461.62 L1195.24,461.65 L1195.74,461.67 L1196.24,461.70 L1196.74,461.72 L1197.24,461.75 L1197.74,461.78 L1198.24,461.81 L1198.74,461.83 L1199.24,461.86 L1199.74,461.89 L1200.24,461.92 L1200.74,461.96 L1201.24,461.99 L1201.73,462.02 L1202.23,462.05 L1202.73,462.09 L1203.23,462.12 L1203.73,462.15 L1204.23,462.19 L1204.73,462.23 L1205.23,462.26 L1205.73,462.30 L1206.23,462.34 L1206.73,462.38 L1207.23,462.42 L1207.73,462.46 L1208.23,462.50 L1208.73,462.54 L1209.23,462.58 L1209.73,462.63 L1210.23,462.67 L1210.73,462.71 L1211.22,462.76 L1211.72,462.81 L1212.22,462.85 L1212.72,462.90 L1213.22,462.95 L1213.72,463.00 L1214.22,463.05 L1214.72,463.10 L1215.22,463.15 L1215.72,463.20 L1216.22,463.25 L1216.72,463.31 L1217.22,463.36 L1217.72,463.42 L1218.22,463.47 L1218.72,463.53 L1219.22,463.58 L1219.72,463.64 L1220.21,463.70 L1220.71,463.76 L1221.21,463.82 L1221.71,463.88 L1222.21,463.95 L1222.71,464.01 L1223.21,464.07 L1223.71,464.14 L1224.21,464.20 L1224.71,464.27 L1225.21,464.34 L1225.71,464.40 L1226.21,464.47 L1226.71,464.54 L1227.21,464.61 L1227.71,464.68 L1228.21,464.76 L1228.71,464.83 L1229.21,464.90 L1229.70,464.98 L1230.20,465.05 L1230.70,465.13 L1231.20,465.21 L1231.70,465.29 L1232.20,465.37 L1232.70,465.45 L1233.20,465.53 L1233.70,465.61 L1234.20,465.69 L1234.70,465.78 L1235.20,465.86 L1235.70,465.95 L1236.20,466.03 L1236.70,466.12 L1237.20,466.21 L1237.70,466.30 L1238.20,466.39 L1238.70,466.48 L1239.19,466.58 L1239.69,466.67 L1240.19,466.76 L1240.69,466.86 L1241.19,466.95 L1241.69,467.05 L1242.19,467.15 L1242.69,467.25 L1243.19,467.35 L1243.69,467.45 L1244.19,467.55 L1244.69,467.66 L1245.19,467.76 L1245.69,467.87 L1246.19,467.97 L1246.69,468.08 L1247.19,468.19 L1247.69,468.30 L1248.19,468.41 L1248.68,468.52 L1249.18,468.63 L1249.68,468.75 L1250.18,468.86 L1250.68,468.98 L1251.18,469.09 L1251.68,469.21 L1252.18,469.33 L1252.68,469.45 L1253.18,469.57 L1253.68,469.69 L1254.18,469.82 L1254.68,469.94 L1255.18,470.07 L1255.68,470.20 L1256.18,470.32 L1256.68,470.45 L1257.18,470.58 L1257.67,470.71 L1258.17,470.85 L1258.67,470.98 L1259.17,471.11 L1259.67,471.25 L1260.17,471.39 L1260.67,471.52 L1261.17,471.66 L1261.67,471.80 L1262.17,471.94 L1262.67,472.09 L1263.17,472.23 L1263.67,472.38 L1264.17,472.52 L1264.67,472.67 L1265.17,472.82 L1265.67,472.97 L1266.17,473.12 L1266.67,473.27 L1267.16,473.42 L1267.66,473.58 L1268.16,473.73 L1268.66,473.89 L1269.16,474.05 L1269.66,474.21 L1270.16,474.37 L1270.66,474.53 L1271.16,474.69 L1271.66,474.86 L1272.16,475.02 L1272.66,475.19 L1273.16,475.36 L1273.66,475.53 L1274.16,475.70 L1274.66,475.87 L1275.16,476.04 L1275.66,476.22 L1276.16,476.40 L1276.65,476.57 L1277.15,476.75 L1277.65,476.93 L1278.15,477.11 L1278.65,477.29 L1279.15,477.48 L1279.65,477.66 L1280.15,477.85 L1280.65,478.04 L1281.15,478.22 L1281.65,478.41 L1282.15,478.61 L1282.65,478.80 L1283.15,478.99 L1283.65,479.19 L1284.15,479.39 L1284.65,479.58 L1285.15,479.78 L1285.64,479.98 L1286.14,480.19 L1286.64,480.39 L1287.14,480.60 L1287.64,480.80 L1288.14,481.01 L1288.64,481.22 L1289.14,481.43 L1289.64,481.64 L1290.14,481.86 L1290.64,482.07 L1291.14,482.28 L1291.64,482.50 L1292.14,482.72 L1292.64,482.93 L1293.14,483.15 L1293.64,483.37 L1294.14,483.59 L1294.64,483.81 L1295.13,484.03 L1295.63,484.24 L1296.13,484.46 L1296.63,484.68 L1297.13,484.90 L1297.63,485.12 L1298.13,485.34 L1298.63,485.56 L1299.13,485.78 L1299.63,485.99 L1300.13,486.21 L1300.63,486.42 L1301.13,486.64 L1301.63,486.85 L1302.13,487.07 L1302.63,487.28 L1303.13,487.49 L1303.63,487.70 L1304.13,487.91 L1304.62,488.11 L1305.12,488.32 L1305.62,488.52 L1306.12,488.72 L1306.62,488.92 L1307.12,489.12 L1307.62,489.31 L1308.12,489.51 L1308.62,489.70 L1309.12,489.89 L1309.62,490.07 L1310.12,490.26 L1310.62,490.44 L1311.12,490.62 L1311.62,490.79 L1312.12,490.97 L1312.62,491.14 L1313.12,491.30 L1313.61,491.47 L1314.11,491.63 L1314.61,491.79 L1315.11,491.94 L1315.61,492.09 L1316.11,492.24 L1316.61,492.38 L1317.11,492.52 L1317.61,492.66 L1318.11,492.79 L1318.61,492.92 L1319.11,493.04 L1319.61,493.16 L1320.11,493.28 L1320.61,493.39 L1321.11,493.50 L1321.61,493.60 L1322.11,493.70 L1322.61,493.79 L1323.10,493.88 L1323.60,493.96 L1324.10,494.04 L1324.60,494.11 L1325.10,494.18 L1325.60,494.24 L1326.10,494.30 L1326.60,494.35 L1327.10,494.40 L1327.60,494.44 L1328.10,494.48 L1328.60,494.51 L1329.10,494.53 L1329.60,494.55 L1330.10,494.56 L1330.60,494.56 L1331.10,494.56 L1331.60,494.56 L1332.10,494.54 L1332.59,494.52 L1333.09,494.50 L1333.59,494.46 L1334.09,494.42 L1334.59,494.38 L1335.09,494.32 L1335.59,494.26 L1336.09,494.19 L1336.59,494.12 L1337.09,494.03 L1337.59,493.94 L1338.09,493.85 L1338.59,493.74 L1339.09,493.63 L1339.59,493.51 L1340.09,493.38 L1340.59,493.24 L1341.09,493.10 L1341.59,492.95 L1342.08,492.78 L1342.58,492.62 L1343.08,492.44 L1343.58,492.25 L1344.08,492.06 L1344.58,491.85 L1345.08,491.64 L1345.58,491.42 L1346.08,491.19 L1346.58,490.95 L1347.08,490.71 L1347.58,490.45 L1348.08,490.18 L1348.58,489.91 L1349.08,489.62 L1349.58,489.33 L1350.08,489.02 L1350.58,488.71 L1351.07,488.38 L1351.57,488.05 L1352.07,487.70 L1352.57,487.34 L1353.07,486.98 L1353.57,486.59 L1354.07,486.20 L1354.57,485.79 L1355.07,485.37 L1355.57,484.94 L1356.07,484.49 L1356.57,484.03 L1357.07,483.55 L1357.57,483.06 L1358.07,482.55 L1358.57,482.02 L1359.07,481.48 L1359.57,480.92 L1360.07,480.35 L1360.56,479.75 L1361.06,479.14 L1361.56,478.51 L1362.06,477.86 L1362.56,477.19 L1363.06,476.50 L1363.56,475.79 L1364.06,475.06 L1364.56,474.31 L1365.06,473.54 L1365.56,472.74 L1366.06,471.93 L1366.56,471.09 L1367.06,470.23 L1367.56,469.34 L1368.06,468.43 L1368.56,467.50 L1369.06,466.54 L1369.56,465.56 L1370.05,464.55 L1370.55,463.52 L1371.05,462.46 L1371.55,461.37 L1372.05,460.26 L1372.55,459.12 L1373.05,457.95 L1373.55,456.75 L1374.05,455.53 L1374.55,454.27 L1375.05,452.99 L1375.55,451.67 L1376.05,450.33 L1376.55,448.95 L1377.05,447.55 L1377.55,446.11 L1378.05,444.64 L1378.55,443.14 L1379.04,441.61 L1379.54,440.04 L1380.04,438.44 L1380.54,436.81 L1381.04,435.14 L1381.54,433.44 L1382.04,431.70 L1382.54,429.92 L1383.04,428.12 L1383.54,426.27 L1384.04,424.39 L1384.54,422.47 L1385.04,420.51 L1385.54,418.52 L1386.04,416.49 L1386.54,414.42 L1387.04,412.32 L1387.54,410.19 L1388.04,408.04 L1388.53,405.87 L1389.03,403.68 L1389.53,401.49 L1390.03,399.30 L1390.53,397.11 L1391.03,394.92 L1391.53,392.74 L1392.03,390.58 L1392.53,388.44 L1393.03,386.33 L1393.53,384.24 L1394.03,382.20 L1394.53,380.19 L1395.03,378.22 L1395.53,376.29 L1396.03,374.39 L1396.53,372.52 L1397.03,370.66 L1397.53,368.82 L1398.02,366.97 L1398.52,365.13 L1399.02,363.28 L1399.52,361.41 L1400.02,359.52 L1400.52,357.60 L1401.02,355.65 L1401.52,353.68 L1402.02,351.68 L1402.52,349.66 L1403.02,347.63 L1403.52,345.57 L1404.02,343.49 L1404.52,341.40 L1405.02,339.30 L1405.52,337.18 L1406.02,335.05 L1406.52,332.91 L1407.01,330.77 L1407.51,328.61 L1408.01,326.46 L1408.51,324.30 L1409.01,322.13 L1409.51,319.97 L1410.01,317.81 L1410.51,315.66 L1411.01,313.50 L1411.51,311.36 L1412.01,309.22 L1412.51,307.10 L1413.01,304.98 L1413.51,302.88 L1414.01,300.79 L1414.51,298.72 L1415.01,296.67 L1415.51,294.63 L1416.01,292.62 L1416.50,290.63 L1417.00,288.66 L1417.50,286.72 L1418.00,284.81 L1418.50,282.92 L1419.00,281.07 L1419.50,279.25 L1420.00,277.46 L1420.50,275.71 L1421.00,273.99" fill="none" stroke="#1a1a1a" stroke-width="2.1" stroke-linejoin="round" />
<line x1="1137.20" y1="264.30" x2="1137.20" y2="518.70" stroke="#1e1e1c" stroke-width="2.1" />
<line x1="1128.40" y1="518.70" x2="1137.20" y2="518.70" stroke="#1e1e1c" stroke-width="2.1" />
<text x="1120.40" y="531.00" text-anchor="end" font-size="33" transform="matrix(1,0,0,1.03,0,-15.930)" >2</text>
<line x1="1128.40" y1="476.30" x2="1137.20" y2="476.30" stroke="#1e1e1c" stroke-width="2.1" />
<text x="1120.40" y="488.60" text-anchor="end" font-size="33" transform="matrix(1,0,0,1.03,0,-14.658)" >3</text>
<line x1="1128.40" y1="433.90" x2="1137.20" y2="433.90" stroke="#1e1e1c" stroke-width="2.1" />
<text x="1120.40" y="446.20" text-anchor="end" font-size="33" transform="matrix(1,0,0,1.03,0,-13.386)" >4</text>
<line x1="1128.40" y1="391.50" x2="1137.20" y2="391.50" stroke="#1e1e1c" stroke-width="2.1" />
<text x="1120.40" y="403.80" text-anchor="end" font-size="33" transform="matrix(1,0,0,1.03,0,-12.114)" >5</text>
<line x1="1128.40" y1="349.10" x2="1137.20" y2="349.10" stroke="#1e1e1c" stroke-width="2.1" />
<text x="1120.40" y="361.40" text-anchor="end" font-size="33" transform="matrix(1,0,0,1.03,0,-10.842)" >6</text>
<line x1="1128.40" y1="306.70" x2="1137.20" y2="306.70" stroke="#1e1e1c" stroke-width="2.1" />
<text x="1120.40" y="319.00" text-anchor="end" font-size="33" transform="matrix(1,0,0,1.03,0,-9.570)" >7</text>
<line x1="1128.40" y1="264.30" x2="1137.20" y2="264.30" stroke="#1e1e1c" stroke-width="2.1" />
<text x="1120.40" y="276.60" text-anchor="end" font-size="33" transform="matrix(1,0,0,1.03,0,-8.298)" >8</text>
<line x1="1137.20" y1="518.70" x2="1457.30" y2="518.70" stroke="#1e1e1c" stroke-width="2.1" />
<line x1="1137.20" y1="518.70" x2="1137.20" y2="529.90" stroke="#1e1e1c" stroke-width="2.1" />
<line x1="1297.20" y1="518.70" x2="1297.20" y2="529.90" stroke="#1e1e1c" stroke-width="2.1" />
<line x1="1457.30" y1="518.70" x2="1457.30" y2="529.90" stroke="#1e1e1c" stroke-width="2.1" />
<text transform="translate(1080.90,523.30) rotate(-90)" font-size="33.5">Residual error (%)</text>
<text x="1136.00" y="570.00" text-anchor="middle" font-size="33" transform="matrix(1,0,0,1.03,0,-17.100)" >0.0001</text>
<text x="1297.00" y="570.00" text-anchor="middle" font-size="33" transform="matrix(1,0,0,1.03,0,-17.100)" >0.01</text>
<text x="1456.00" y="570.00" text-anchor="middle" font-size="33" transform="matrix(1,0,0,1.03,0,-17.100)" >1</text>
<text x="1240.35" y="621" font-size="33.5"><tspan font-style="italic">K</tspan><tspan font-size="19.5" dy="12">D</tspan><tspan dy="-12"> (pM)</tspan></text>
<text x="1011.80" y="254.30" font-size="33.5" font-weight="bold">b</text>
<rect x="1771.40" y="264.73" width="23.20" height="253.47" fill="#808080" stroke="#1e1e1c" stroke-width="1.9"/>
<line x1="1785.00" y1="265.73" x2="1785.00" y2="518.20" stroke="#1e1e1c" stroke-width="1.8" stroke-dasharray="8.3 8.3"/>
<path d="M1731.40,299.61 L1731.90,301.73 L1732.40,303.85 L1732.89,305.99 L1733.39,308.15 L1733.89,310.32 L1734.39,312.50 L1734.89,314.70 L1735.39,316.90 L1735.88,319.12 L1736.38,321.35 L1736.88,323.59 L1737.38,325.85 L1737.88,328.11 L1738.38,330.38 L1738.87,332.66 L1739.37,334.95 L1739.87,337.25 L1740.37,339.55 L1740.87,341.86 L1741.37,344.18 L1741.86,346.51 L1742.36,348.84 L1742.86,351.18 L1743.36,353.52 L1743.86,355.86 L1744.36,358.22 L1744.85,360.57 L1745.35,362.93 L1745.85,365.29 L1746.35,367.65 L1746.85,370.02 L1747.35,372.38 L1747.84,374.75 L1748.34,377.12 L1748.84,379.48 L1749.34,381.85 L1749.84,384.22 L1750.34,386.58 L1750.83,388.95 L1751.33,391.31 L1751.83,393.67 L1752.33,396.02 L1752.83,398.37 L1753.33,400.72 L1753.82,403.07 L1754.32,405.41 L1754.82,407.74 L1755.32,410.07 L1755.82,412.39 L1756.32,414.70 L1756.81,417.01 L1757.31,419.31 L1757.81,421.60 L1758.31,423.88 L1758.81,426.16 L1759.31,428.42 L1759.80,430.68 L1760.30,432.92 L1760.80,435.16 L1761.30,437.38 L1761.80,439.59 L1762.30,441.79 L1762.79,443.98 L1763.29,446.15 L1763.79,448.31 L1764.29,450.46 L1764.79,452.59 L1765.29,454.70 L1765.78,456.80 L1766.28,458.88 L1766.78,460.92 L1767.28,462.94 L1767.78,464.92 L1768.28,466.85 L1768.77,468.75 L1769.27,470.59 L1769.77,472.39 L1770.27,474.12 L1770.77,475.80 L1771.27,477.41 L1771.76,478.95 L1772.26,480.42 L1772.76,481.83 L1773.26,483.17 L1773.76,484.46 L1774.26,485.68 L1774.75,486.85 L1775.25,487.96 L1775.75,489.02 L1776.25,490.02 L1776.75,490.98 L1777.25,491.89 L1777.74,492.75 L1778.24,493.57 L1778.74,494.34 L1779.24,495.07 L1779.74,495.74 L1780.24,496.35 L1780.73,496.92 L1781.23,497.42 L1781.73,497.87 L1782.23,498.26 L1782.73,498.58 L1783.23,498.84 L1783.72,499.04 L1784.22,499.16 L1784.72,499.22 L1785.22,499.20 L1785.72,499.11 L1786.22,498.93 L1786.71,498.66 L1787.21,498.30 L1787.71,497.83 L1788.21,497.25 L1788.71,496.55 L1789.21,495.73 L1789.70,494.78 L1790.20,493.70 L1790.70,492.47 L1791.20,491.10 L1791.70,489.58 L1792.20,487.93 L1792.69,486.14 L1793.19,484.22 L1793.69,482.17 L1794.19,480.00 L1794.69,477.70 L1795.19,475.28 L1795.68,472.74 L1796.18,470.10 L1796.68,467.36 L1797.18,464.52 L1797.68,461.61 L1798.18,458.63 L1798.67,455.59 L1799.17,452.49 L1799.67,449.36 L1800.17,446.18 L1800.67,442.96 L1801.17,439.70 L1801.66,436.41 L1802.16,433.09 L1802.66,429.74 L1803.16,426.37 L1803.66,422.96 L1804.16,419.54 L1804.65,416.10 L1805.15,412.64 L1805.65,409.16 L1806.15,405.68 L1806.65,402.18 L1807.15,398.67 L1807.64,395.16 L1808.14,391.65 L1808.64,388.14 L1809.14,384.63 L1809.64,381.12 L1810.14,377.60 L1810.63,374.08 L1811.13,370.56 L1811.63,367.02 L1812.13,363.47 L1812.63,359.91 L1813.13,356.33 L1813.62,352.73 L1814.12,349.11 L1814.62,345.47 L1815.12,341.80 L1815.62,338.10 L1816.12,334.37 L1816.61,330.60 L1817.11,326.80 L1817.61,322.96 L1818.11,319.07 L1818.61,315.15 L1819.11,311.17 L1819.60,307.15 L1820.10,303.08 L1820.60,298.95" fill="none" stroke="#1a1a1a" stroke-width="2.1" stroke-linejoin="round" />
<line x1="1644.50" y1="264.73" x2="1644.50" y2="518.20" stroke="#1e1e1c" stroke-width="2.1" />
<line x1="1635.70" y1="518.20" x2="1644.50" y2="518.20" stroke="#1e1e1c" stroke-width="2.1" />
<text x="1626.30" y="530.50" text-anchor="end" font-size="33" transform="matrix(1,0,0,1.03,0,-15.915)" >2</text>
<line x1="1635.70" y1="481.99" x2="1644.50" y2="481.99" stroke="#1e1e1c" stroke-width="2.1" />
<text x="1626.30" y="494.29" text-anchor="end" font-size="33" transform="matrix(1,0,0,1.03,0,-14.829)" >3</text>
<line x1="1635.70" y1="445.78" x2="1644.50" y2="445.78" stroke="#1e1e1c" stroke-width="2.1" />
<text x="1626.30" y="458.08" text-anchor="end" font-size="33" transform="matrix(1,0,0,1.03,0,-13.742)" >4</text>
<line x1="1635.70" y1="409.57" x2="1644.50" y2="409.57" stroke="#1e1e1c" stroke-width="2.1" />
<text x="1626.30" y="421.87" text-anchor="end" font-size="33" transform="matrix(1,0,0,1.03,0,-12.656)" >5</text>
<line x1="1635.70" y1="373.36" x2="1644.50" y2="373.36" stroke="#1e1e1c" stroke-width="2.1" />
<text x="1626.30" y="385.66" text-anchor="end" font-size="33" transform="matrix(1,0,0,1.03,0,-11.570)" >6</text>
<line x1="1635.70" y1="337.15" x2="1644.50" y2="337.15" stroke="#1e1e1c" stroke-width="2.1" />
<text x="1626.30" y="349.45" text-anchor="end" font-size="33" transform="matrix(1,0,0,1.03,0,-10.484)" >7</text>
<line x1="1635.70" y1="300.94" x2="1644.50" y2="300.94" stroke="#1e1e1c" stroke-width="2.1" />
<text x="1626.30" y="313.24" text-anchor="end" font-size="33" transform="matrix(1,0,0,1.03,0,-9.397)" >8</text>
<line x1="1635.70" y1="264.73" x2="1644.50" y2="264.73" stroke="#1e1e1c" stroke-width="2.1" />
<text x="1626.30" y="277.03" text-anchor="end" font-size="33" transform="matrix(1,0,0,1.03,0,-8.311)" >9</text>
<line x1="1644.50" y1="518.20" x2="1960.70" y2="518.20" stroke="#1e1e1c" stroke-width="2.1" />
<line x1="1644.50" y1="518.20" x2="1644.50" y2="529.40" stroke="#1e1e1c" stroke-width="2.1" />
<line x1="1801.00" y1="518.20" x2="1801.00" y2="529.40" stroke="#1e1e1c" stroke-width="2.1" />
<line x1="1960.70" y1="518.20" x2="1960.70" y2="529.40" stroke="#1e1e1c" stroke-width="2.1" />
<text transform="translate(1586.90,523.30) rotate(-90)" font-size="33.5">Residual error (%)</text>
<text x="1643.60" y="570.00" text-anchor="middle" font-size="33" transform="matrix(1,0,0,1.03,0,-17.100)" >1</text>
<text x="1801.00" y="570.00" text-anchor="middle" font-size="33" transform="matrix(1,0,0,1.03,0,-17.100)" >10</text>
<text x="1960.70" y="570.00" text-anchor="middle" font-size="33" transform="matrix(1,0,0,1.03,0,-17.100)" >100</text>
<text x="1605.33" y="620.80" text-anchor="start" font-size="33.15" >Active antibody [CBP] (pM)</text>
<text x="1527.80" y="253.00" font-size="33.5" font-weight="bold">c</text>
<line x1="142.30" y1="747.14" x2="142.30" y2="1322.26" stroke="#1e1e1c" stroke-width="2.1" />
<line x1="133.30" y1="1322.26" x2="142.30" y2="1322.26" stroke="#1e1e1c" stroke-width="2.1" />
<text x="125.30" y="1333.26" text-anchor="end" font-size="33" transform="matrix(1,0,0,1.03,0,-39.998)" >−20</text>
<line x1="133.30" y1="1240.10" x2="142.30" y2="1240.10" stroke="#1e1e1c" stroke-width="2.1" />
<text x="125.30" y="1251.10" text-anchor="end" font-size="33" transform="matrix(1,0,0,1.03,0,-37.533)" >0</text>
<line x1="133.30" y1="1157.94" x2="142.30" y2="1157.94" stroke="#1e1e1c" stroke-width="2.1" />
<text x="125.30" y="1168.94" text-anchor="end" font-size="33" transform="matrix(1,0,0,1.03,0,-35.068)" >20</text>
<line x1="133.30" y1="1075.78" x2="142.30" y2="1075.78" stroke="#1e1e1c" stroke-width="2.1" />
<text x="125.30" y="1086.78" text-anchor="end" font-size="33" transform="matrix(1,0,0,1.03,0,-32.603)" >40</text>
<line x1="133.30" y1="993.62" x2="142.30" y2="993.62" stroke="#1e1e1c" stroke-width="2.1" />
<text x="125.30" y="1004.62" text-anchor="end" font-size="33" transform="matrix(1,0,0,1.03,0,-30.139)" >60</text>
<line x1="133.30" y1="911.46" x2="142.30" y2="911.46" stroke="#1e1e1c" stroke-width="2.1" />
<text x="125.30" y="922.46" text-anchor="end" font-size="33" transform="matrix(1,0,0,1.03,0,-27.674)" >80</text>
<line x1="133.30" y1="829.30" x2="142.30" y2="829.30" stroke="#1e1e1c" stroke-width="2.1" />
<text x="125.30" y="840.30" text-anchor="end" font-size="33" transform="matrix(1,0,0,1.03,0,-25.209)" >100</text>
<line x1="133.30" y1="747.14" x2="142.30" y2="747.14" stroke="#1e1e1c" stroke-width="2.1" />
<text x="125.30" y="758.14" text-anchor="end" font-size="33" transform="matrix(1,0,0,1.03,0,-22.744)" >120</text>
<line x1="142.30" y1="1239.80" x2="955.80" y2="1239.80" stroke="#1e1e1c" stroke-width="2.1" />
<line x1="304.30" y1="1239.80" x2="304.30" y2="1251.50" stroke="#1e1e1c" stroke-width="2.1" />
<text x="304.30" y="1288.00" text-anchor="middle" font-size="33" transform="matrix(1,0,0,1.03,0,-38.640)" >2</text>
<line x1="467.30" y1="1239.80" x2="467.30" y2="1251.50" stroke="#1e1e1c" stroke-width="2.1" />
<text x="467.30" y="1288.00" text-anchor="middle" font-size="33" transform="matrix(1,0,0,1.03,0,-38.640)" >4</text>
<line x1="630.30" y1="1239.80" x2="630.30" y2="1251.50" stroke="#1e1e1c" stroke-width="2.1" />
<text x="630.30" y="1288.00" text-anchor="middle" font-size="33" transform="matrix(1,0,0,1.03,0,-38.640)" >6</text>
<line x1="793.30" y1="1239.80" x2="793.30" y2="1251.50" stroke="#1e1e1c" stroke-width="2.1" />
<text x="793.30" y="1288.00" text-anchor="middle" font-size="33" transform="matrix(1,0,0,1.03,0,-38.640)" >8</text>
<line x1="956.30" y1="1239.80" x2="956.30" y2="1251.50" stroke="#1e1e1c" stroke-width="2.1" />
<text x="956.30" y="1288.00" text-anchor="middle" font-size="33" transform="matrix(1,0,0,1.03,0,-38.640)" >10</text>
<text x="413.25" y="1338.70" text-anchor="start" font-size="33.5" >Human IL-33 (nM)</text>
<text transform="translate(25.30,1127.30) rotate(-90)" font-size="33.5">Free fab (%)</text>
<text x="-0.70" y="748.90" font-size="33.5" font-weight="bold">d</text>
<path d="M140.30,817.90L149.80,827.40L140.30,836.90L130.80,827.40Z" fill="#000"/>
<path d="M152.50,830.30L162.00,839.80L152.50,849.30L143.00,839.80Z" fill="#000"/>
<path d="M140.30,834.50L149.80,844.00L140.30,853.50L130.80,844.00Z" fill="#000"/>
<path d="M152.80,847.50L162.30,857.00L152.80,866.50L143.30,857.00Z" fill="#000"/>
<path d="M166.50,885.40L176.00,894.90L166.50,904.40L157.00,894.90Z" fill="#000"/>
<path d="M171.20,885.40L180.70,894.90L171.20,904.40L161.70,894.90Z" fill="#000"/>
<path d="M171.40,901.20L180.90,910.70L171.40,920.20L161.90,910.70Z" fill="#000"/>
<path d="M171.40,910.10L180.90,919.60L171.40,929.10L161.90,919.60Z" fill="#000"/>
<path d="M192.10,941.20L201.60,950.70L192.10,960.20L182.60,950.70Z" fill="#000"/>
<path d="M231.40,1000.50L240.90,1010.00L231.40,1019.50L221.90,1010.00Z" fill="#000"/>
<path d="M231.40,1007.50L240.90,1017.00L231.40,1026.50L221.90,1017.00Z" fill="#000"/>
<path d="M231.40,1013.10L240.90,1022.60L231.40,1032.10L221.90,1022.60Z" fill="#000"/>
<path d="M243.30,1027.20L252.80,1036.70L243.30,1046.20L233.80,1036.70Z" fill="#000"/>
<path d="M343.90,1133.80L353.40,1143.30L343.90,1152.80L334.40,1143.30Z" fill="#000"/>
<path d="M412.40,1150.30L421.90,1159.80L412.40,1169.30L402.90,1159.80Z" fill="#000"/>
<path d="M412.40,1158.30L421.90,1167.80L412.40,1177.30L402.90,1167.80Z" fill="#000"/>
<path d="M412.40,1164.30L421.90,1173.80L412.40,1183.30L402.90,1173.80Z" fill="#000"/>
<path d="M412.40,1171.70L421.90,1181.20L412.40,1190.70L402.90,1181.20Z" fill="#000"/>
<path d="M548.00,1201.30L557.50,1210.80L548.00,1220.30L538.50,1210.80Z" fill="#000"/>
<path d="M955.50,1222.80L965.00,1232.30L955.50,1241.80L946.00,1232.30Z" fill="#000"/>
<path d="M955.50,1231.40L965.00,1240.90L955.50,1250.40L946.00,1240.90Z" fill="#000"/>
<path d="M141.50,834.15 L143.00,837.63 L144.50,841.23 L146.00,844.95 L147.50,848.74 L149.00,852.60 L150.49,856.49 L151.99,860.39 L153.49,864.29 L154.99,868.15 L156.49,871.96 L157.99,875.70 L159.49,879.33 L160.99,882.84 L162.49,886.23 L163.99,889.52 L165.49,892.73 L166.98,895.89 L168.48,899.02 L169.98,902.13 L171.48,905.26 L172.98,908.43 L174.48,911.63 L175.98,914.86 L177.48,918.10 L178.98,921.37 L180.48,924.64 L181.98,927.92 L183.47,931.19 L184.97,934.45 L186.47,937.69 L187.97,940.91 L189.47,944.10 L190.97,947.26 L192.47,950.38 L193.97,953.45 L195.47,956.49 L196.97,959.49 L198.47,962.45 L199.96,965.37 L201.46,968.26 L202.96,971.11 L204.46,973.93 L205.96,976.71 L207.46,979.46 L208.96,982.18 L210.46,984.86 L211.96,987.52 L213.46,990.14 L214.95,992.74 L216.45,995.31 L217.95,997.85 L219.45,1000.36 L220.95,1002.85 L222.45,1005.31 L223.95,1007.75 L225.45,1010.17 L226.95,1012.56 L228.45,1014.92 L229.95,1017.27 L231.44,1019.59 L232.94,1021.89 L234.44,1024.16 L235.94,1026.42 L237.44,1028.65 L238.94,1030.85 L240.44,1033.04 L241.94,1035.20 L243.44,1037.34 L244.94,1039.46 L246.44,1041.56 L247.93,1043.64 L249.43,1045.69 L250.93,1047.73 L252.43,1049.74 L253.93,1051.73 L255.43,1053.70 L256.93,1055.65 L258.43,1057.57 L259.93,1059.48 L261.43,1061.37 L262.93,1063.23 L264.42,1065.08 L265.92,1066.91 L267.42,1068.71 L268.92,1070.50 L270.42,1072.27 L271.92,1074.01 L273.42,1075.74 L274.92,1077.45 L276.42,1079.14 L277.92,1080.81 L279.42,1082.47 L280.91,1084.10 L282.41,1085.72 L283.91,1087.31 L285.41,1088.90 L286.91,1090.46 L288.41,1092.00 L289.91,1093.53 L291.41,1095.04 L292.91,1096.54 L294.41,1098.01 L295.91,1099.47 L297.40,1100.92 L298.90,1102.35 L300.40,1103.76 L301.90,1105.15 L303.40,1106.53 L304.90,1107.90 L306.40,1109.25 L307.90,1110.58 L309.40,1111.90 L310.90,1113.20 L312.40,1114.49 L313.89,1115.76 L315.39,1117.02 L316.89,1118.26 L318.39,1119.50 L319.89,1120.71 L321.39,1121.92 L322.89,1123.10 L324.39,1124.28 L325.89,1125.44 L327.39,1126.59 L328.88,1127.73 L330.38,1128.85 L331.88,1129.96 L333.38,1131.06 L334.88,1132.15 L336.38,1133.22 L337.88,1134.29 L339.38,1135.34 L340.88,1136.37 L342.38,1137.40 L343.88,1138.42 L345.37,1139.42 L346.87,1140.42 L348.37,1141.40 L349.87,1142.37 L351.37,1143.34 L352.87,1144.29 L354.37,1145.23 L355.87,1146.16 L357.37,1147.09 L358.87,1148.00 L360.37,1148.90 L361.86,1149.80 L363.36,1150.68 L364.86,1151.56 L366.36,1152.43 L367.86,1153.28 L369.36,1154.13 L370.86,1154.97 L372.36,1155.81 L373.86,1156.63 L375.36,1157.45 L376.86,1158.25 L378.35,1159.05 L379.85,1159.85 L381.35,1160.63 L382.85,1161.40 L384.35,1162.17 L385.85,1162.93 L387.35,1163.68 L388.85,1164.43 L390.35,1165.17 L391.85,1165.90 L393.35,1166.62 L394.84,1167.34 L396.34,1168.05 L397.84,1168.75 L399.34,1169.45 L400.84,1170.14 L402.34,1170.82 L403.84,1171.50 L405.34,1172.17 L406.84,1172.83 L408.34,1173.49 L409.84,1174.14 L411.33,1174.79 L412.83,1175.43 L414.33,1176.06 L415.83,1176.69 L417.33,1177.31 L418.83,1177.93 L420.33,1178.54 L421.83,1179.15 L423.33,1179.75 L424.83,1180.35 L426.33,1180.94 L427.82,1181.53 L429.32,1182.11 L430.82,1182.69 L432.32,1183.27 L433.82,1183.83 L435.32,1184.40 L436.82,1184.96 L438.32,1185.52 L439.82,1186.07 L441.32,1186.62 L442.81,1187.16 L444.31,1187.71 L445.81,1188.24 L447.31,1188.78 L448.81,1189.31 L450.31,1189.84 L451.81,1190.36 L453.31,1190.88 L454.81,1191.40 L456.31,1191.92 L457.81,1192.43 L459.30,1192.94 L460.80,1193.45 L462.30,1193.95 L463.80,1194.46 L465.30,1194.96 L466.80,1195.45 L468.30,1195.95 L469.80,1196.44 L471.30,1196.94 L472.80,1197.42 L474.30,1197.91 L475.79,1198.39 L477.29,1198.87 L478.79,1199.35 L480.29,1199.83 L481.79,1200.30 L483.29,1200.76 L484.79,1201.23 L486.29,1201.69 L487.79,1202.15 L489.29,1202.60 L490.79,1203.05 L492.28,1203.49 L493.78,1203.93 L495.28,1204.37 L496.78,1204.80 L498.28,1205.23 L499.78,1205.65 L501.28,1206.07 L502.78,1206.48 L504.28,1206.89 L505.78,1207.29 L507.28,1207.69 L508.77,1208.08 L510.27,1208.47 L511.77,1208.85 L513.27,1209.22 L514.77,1209.59 L516.27,1209.96 L517.77,1210.31 L519.27,1210.66 L520.77,1211.01 L522.27,1211.35 L523.77,1211.68 L525.26,1212.01 L526.76,1212.33 L528.26,1212.64 L529.76,1212.95 L531.26,1213.25 L532.76,1213.55 L534.26,1213.85 L535.76,1214.13 L537.26,1214.41 L538.76,1214.69 L540.26,1214.96 L541.75,1215.23 L543.25,1215.49 L544.75,1215.75 L546.25,1216.00 L547.75,1216.25 L549.25,1216.49 L550.75,1216.73 L552.25,1216.96 L553.75,1217.19 L555.25,1217.42 L556.74,1217.64 L558.24,1217.85 L559.74,1218.06 L561.24,1218.27 L562.74,1218.48 L564.24,1218.68 L565.74,1218.87 L567.24,1219.07 L568.74,1219.26 L570.24,1219.44 L571.74,1219.63 L573.23,1219.81 L574.73,1219.98 L576.23,1220.15 L577.73,1220.32 L579.23,1220.49 L580.73,1220.66 L582.23,1220.82 L583.73,1220.97 L585.23,1221.13 L586.73,1221.28 L588.23,1221.43 L589.72,1221.58 L591.22,1221.73 L592.72,1221.87 L594.22,1222.01 L595.72,1222.15 L597.22,1222.29 L598.72,1222.42 L600.22,1222.55 L601.72,1222.68 L603.22,1222.81 L604.72,1222.94 L606.21,1223.07 L607.71,1223.19 L609.21,1223.32 L610.71,1223.44 L612.21,1223.56 L613.71,1223.68 L615.21,1223.80 L616.71,1223.91 L618.21,1224.03 L619.71,1224.14 L621.21,1224.26 L622.70,1224.37 L624.20,1224.49 L625.70,1224.60 L627.20,1224.71 L628.70,1224.82 L630.20,1224.93 L631.70,1225.05 L633.20,1225.15 L634.70,1225.26 L636.20,1225.37 L637.70,1225.48 L639.19,1225.59 L640.69,1225.69 L642.19,1225.80 L643.69,1225.90 L645.19,1226.01 L646.69,1226.11 L648.19,1226.22 L649.69,1226.32 L651.19,1226.42 L652.69,1226.52 L654.19,1226.62 L655.68,1226.72 L657.18,1226.82 L658.68,1226.92 L660.18,1227.02 L661.68,1227.12 L663.18,1227.21 L664.68,1227.31 L666.18,1227.40 L667.68,1227.50 L669.18,1227.59 L670.67,1227.69 L672.17,1227.78 L673.67,1227.87 L675.17,1227.97 L676.67,1228.06 L678.17,1228.15 L679.67,1228.24 L681.17,1228.33 L682.67,1228.42 L684.17,1228.50 L685.67,1228.59 L687.16,1228.68 L688.66,1228.76 L690.16,1228.85 L691.66,1228.94 L693.16,1229.02 L694.66,1229.10 L696.16,1229.19 L697.66,1229.27 L699.16,1229.35 L700.66,1229.43 L702.16,1229.52 L703.65,1229.60 L705.15,1229.68 L706.65,1229.75 L708.15,1229.83 L709.65,1229.91 L711.15,1229.99 L712.65,1230.07 L714.15,1230.14 L715.65,1230.22 L717.15,1230.29 L718.65,1230.37 L720.14,1230.44 L721.64,1230.51 L723.14,1230.59 L724.64,1230.66 L726.14,1230.73 L727.64,1230.80 L729.14,1230.87 L730.64,1230.94 L732.14,1231.01 L733.64,1231.08 L735.14,1231.15 L736.63,1231.22 L738.13,1231.28 L739.63,1231.35 L741.13,1231.42 L742.63,1231.48 L744.13,1231.55 L745.63,1231.61 L747.13,1231.67 L748.63,1231.74 L750.13,1231.80 L751.63,1231.86 L753.12,1231.92 L754.62,1231.98 L756.12,1232.04 L757.62,1232.10 L759.12,1232.16 L760.62,1232.22 L762.12,1232.28 L763.62,1232.34 L765.12,1232.39 L766.62,1232.45 L768.12,1232.50 L769.61,1232.56 L771.11,1232.61 L772.61,1232.67 L774.11,1232.72 L775.61,1232.78 L777.11,1232.83 L778.61,1232.88 L780.11,1232.93 L781.61,1232.98 L783.11,1233.03 L784.60,1233.08 L786.10,1233.13 L787.60,1233.18 L789.10,1233.23 L790.60,1233.28 L792.10,1233.32 L793.60,1233.37 L795.10,1233.42 L796.60,1233.46 L798.10,1233.51 L799.60,1233.55 L801.09,1233.60 L802.59,1233.64 L804.09,1233.68 L805.59,1233.72 L807.09,1233.77 L808.59,1233.81 L810.09,1233.85 L811.59,1233.89 L813.09,1233.93 L814.59,1233.97 L816.09,1234.01 L817.58,1234.05 L819.08,1234.08 L820.58,1234.12 L822.08,1234.16 L823.58,1234.19 L825.08,1234.23 L826.58,1234.27 L828.08,1234.30 L829.58,1234.33 L831.08,1234.37 L832.58,1234.40 L834.07,1234.43 L835.57,1234.47 L837.07,1234.50 L838.57,1234.53 L840.07,1234.56 L841.57,1234.59 L843.07,1234.62 L844.57,1234.65 L846.07,1234.68 L847.57,1234.71 L849.07,1234.73 L850.56,1234.76 L852.06,1234.79 L853.56,1234.81 L855.06,1234.84 L856.56,1234.87 L858.06,1234.89 L859.56,1234.91 L861.06,1234.94 L862.56,1234.96 L864.06,1234.99 L865.56,1235.01 L867.05,1235.03 L868.55,1235.05 L870.05,1235.07 L871.55,1235.09 L873.05,1235.11 L874.55,1235.13 L876.05,1235.15 L877.55,1235.17 L879.05,1235.19 L880.55,1235.21 L882.05,1235.22 L883.54,1235.24 L885.04,1235.26 L886.54,1235.27 L888.04,1235.29 L889.54,1235.30 L891.04,1235.32 L892.54,1235.33 L894.04,1235.35 L895.54,1235.36 L897.04,1235.37 L898.53,1235.38 L900.03,1235.40 L901.53,1235.41 L903.03,1235.42 L904.53,1235.43 L906.03,1235.44 L907.53,1235.45 L909.03,1235.46 L910.53,1235.47 L912.03,1235.47 L913.53,1235.48 L915.02,1235.49 L916.52,1235.50 L918.02,1235.50 L919.52,1235.51 L921.02,1235.51 L922.52,1235.52 L924.02,1235.52 L925.52,1235.53 L927.02,1235.53 L928.52,1235.54 L930.02,1235.54 L931.51,1235.54 L933.01,1235.54 L934.51,1235.54 L936.01,1235.55 L937.51,1235.55 L939.01,1235.55 L940.51,1235.55 L942.01,1235.55 L943.51,1235.55 L945.01,1235.54 L946.51,1235.54 L948.00,1235.54 L949.50,1235.54 L951.00,1235.54 L952.50,1235.53 L954.00,1235.53 L955.50,1235.52" fill="none" stroke="#1a1a1a" stroke-width="2.1" stroke-linejoin="round" />
<rect x="1278.30" y="986.20" width="13.00" height="253.90" fill="#808080" stroke="#1e1e1c" stroke-width="1.9"/>
<line x1="1284.20" y1="987.20" x2="1284.20" y2="1240.10" stroke="#1e1e1c" stroke-width="1.8" stroke-dasharray="8.3 8.3"/>
<path d="M1251.20,1037.57 L1251.70,1041.23 L1252.19,1044.85 L1252.69,1048.41 L1253.19,1051.94 L1253.69,1055.42 L1254.18,1058.85 L1254.68,1062.25 L1255.18,1065.61 L1255.67,1068.93 L1256.17,1072.22 L1256.67,1075.47 L1257.17,1078.69 L1257.66,1081.88 L1258.16,1085.03 L1258.66,1088.16 L1259.15,1091.27 L1259.65,1094.34 L1260.15,1097.40 L1260.65,1100.43 L1261.14,1103.44 L1261.64,1106.43 L1262.14,1109.40 L1262.63,1112.35 L1263.13,1115.28 L1263.63,1118.19 L1264.13,1121.09 L1264.62,1123.96 L1265.12,1126.81 L1265.62,1129.64 L1266.11,1132.45 L1266.61,1135.24 L1267.11,1138.00 L1267.61,1140.75 L1268.10,1143.47 L1268.60,1146.17 L1269.10,1148.84 L1269.59,1151.50 L1270.09,1154.13 L1270.59,1156.73 L1271.08,1159.31 L1271.58,1161.87 L1272.08,1164.41 L1272.58,1166.91 L1273.07,1169.40 L1273.57,1171.84 L1274.07,1174.25 L1274.56,1176.62 L1275.06,1178.94 L1275.56,1181.20 L1276.06,1183.40 L1276.55,1185.54 L1277.05,1187.60 L1277.55,1189.59 L1278.04,1191.49 L1278.54,1193.31 L1279.04,1195.03 L1279.54,1196.65 L1280.03,1198.17 L1280.53,1199.58 L1281.03,1200.87 L1281.52,1202.04 L1282.02,1203.08 L1282.52,1203.98 L1283.02,1204.75 L1283.51,1205.38 L1284.01,1205.85 L1284.51,1206.17 L1285.00,1206.33 L1285.50,1206.32 L1286.00,1206.16 L1286.50,1205.84 L1286.99,1205.35 L1287.49,1204.72 L1287.99,1203.92 L1288.48,1202.98 L1288.98,1201.88 L1289.48,1200.64 L1289.98,1199.25 L1290.47,1197.74 L1290.97,1196.09 L1291.47,1194.32 L1291.96,1192.44 L1292.46,1190.45 L1292.96,1188.37 L1293.46,1186.20 L1293.95,1183.95 L1294.45,1181.62 L1294.95,1179.23 L1295.44,1176.79 L1295.94,1174.30 L1296.44,1171.77 L1296.94,1169.21 L1297.43,1166.63 L1297.93,1164.03 L1298.43,1161.42 L1298.92,1158.80 L1299.42,1156.16 L1299.92,1153.52 L1300.42,1150.86 L1300.91,1148.21 L1301.41,1145.55 L1301.91,1142.89 L1302.40,1140.23 L1302.90,1137.57 L1303.40,1134.92 L1303.89,1132.27 L1304.39,1129.64 L1304.89,1127.01 L1305.39,1124.38 L1305.88,1121.76 L1306.38,1119.14 L1306.88,1116.52 L1307.37,1113.90 L1307.87,1111.27 L1308.37,1108.63 L1308.87,1105.98 L1309.36,1103.32 L1309.86,1100.65 L1310.36,1097.96 L1310.85,1095.25 L1311.35,1092.52 L1311.85,1089.77 L1312.35,1086.99 L1312.84,1084.19 L1313.34,1081.36 L1313.84,1078.49 L1314.33,1075.60 L1314.83,1072.67 L1315.33,1069.70 L1315.83,1066.69 L1316.32,1063.64 L1316.82,1060.54 L1317.32,1057.40 L1317.81,1054.21 L1318.31,1050.97 L1318.81,1047.68 L1319.31,1044.34 L1319.80,1040.94 L1320.30,1037.48" fill="none" stroke="#1a1a1a" stroke-width="2.1" stroke-linejoin="round" />
<line x1="1137.50" y1="986.20" x2="1137.50" y2="1240.10" stroke="#1e1e1c" stroke-width="2.1" />
<line x1="1128.70" y1="1240.10" x2="1137.50" y2="1240.10" stroke="#1e1e1c" stroke-width="2.1" />
<text x="1120.70" y="1252.40" text-anchor="end" font-size="33" transform="matrix(1,0,0,1.03,0,-37.572)" >1</text>
<line x1="1128.70" y1="1189.32" x2="1137.50" y2="1189.32" stroke="#1e1e1c" stroke-width="2.1" />
<text x="1120.70" y="1201.62" text-anchor="end" font-size="33" transform="matrix(1,0,0,1.03,0,-36.049)" >2</text>
<line x1="1128.70" y1="1138.54" x2="1137.50" y2="1138.54" stroke="#1e1e1c" stroke-width="2.1" />
<text x="1120.70" y="1150.84" text-anchor="end" font-size="33" transform="matrix(1,0,0,1.03,0,-34.525)" >3</text>
<line x1="1128.70" y1="1087.76" x2="1137.50" y2="1087.76" stroke="#1e1e1c" stroke-width="2.1" />
<text x="1120.70" y="1100.06" text-anchor="end" font-size="33" transform="matrix(1,0,0,1.03,0,-33.002)" >4</text>
<line x1="1128.70" y1="1036.98" x2="1137.50" y2="1036.98" stroke="#1e1e1c" stroke-width="2.1" />
<text x="1120.70" y="1049.28" text-anchor="end" font-size="33" transform="matrix(1,0,0,1.03,0,-31.478)" >5</text>
<line x1="1128.70" y1="986.20" x2="1137.50" y2="986.20" stroke="#1e1e1c" stroke-width="2.1" />
<text x="1120.70" y="998.50" text-anchor="end" font-size="33" transform="matrix(1,0,0,1.03,0,-29.955)" >6</text>
<line x1="1137.50" y1="1240.10" x2="1457.20" y2="1240.10" stroke="#1e1e1c" stroke-width="2.1" />
<line x1="1137.50" y1="1240.10" x2="1137.50" y2="1251.30" stroke="#1e1e1c" stroke-width="2.1" />
<line x1="1297.40" y1="1240.10" x2="1297.40" y2="1251.30" stroke="#1e1e1c" stroke-width="2.1" />
<line x1="1457.20" y1="1240.10" x2="1457.20" y2="1251.30" stroke="#1e1e1c" stroke-width="2.1" />
<text transform="translate(1081.90,1245.20) rotate(-90)" font-size="33.5">Residual error (%)</text>
<text x="1114.30" y="1292.6" font-size="33">10<tspan font-size="19.6" dy="-10.8">7</tspan></text>
<text x="1274.20" y="1292.6" font-size="33">10<tspan font-size="19.6" dy="-10.8">8</tspan></text>
<text x="1434.00" y="1292.6" font-size="33">10<tspan font-size="19.6" dy="-10.8">9</tspan></text>
<text x="1119.9" y="1342.6" font-size="33.2">Association rate (M<tspan x="1403.3" y="1332" font-size="19.5">−1</tspan><tspan x="1425.7" y="1342.6">s</tspan><tspan x="1441.2" y="1332" font-size="19.5">−1</tspan><tspan x="1464.8" y="1342.6">)</tspan></text>
<text x="1016.30" y="976.20" font-size="33.5" font-weight="bold">e</text>
</svg>
</body></html>
